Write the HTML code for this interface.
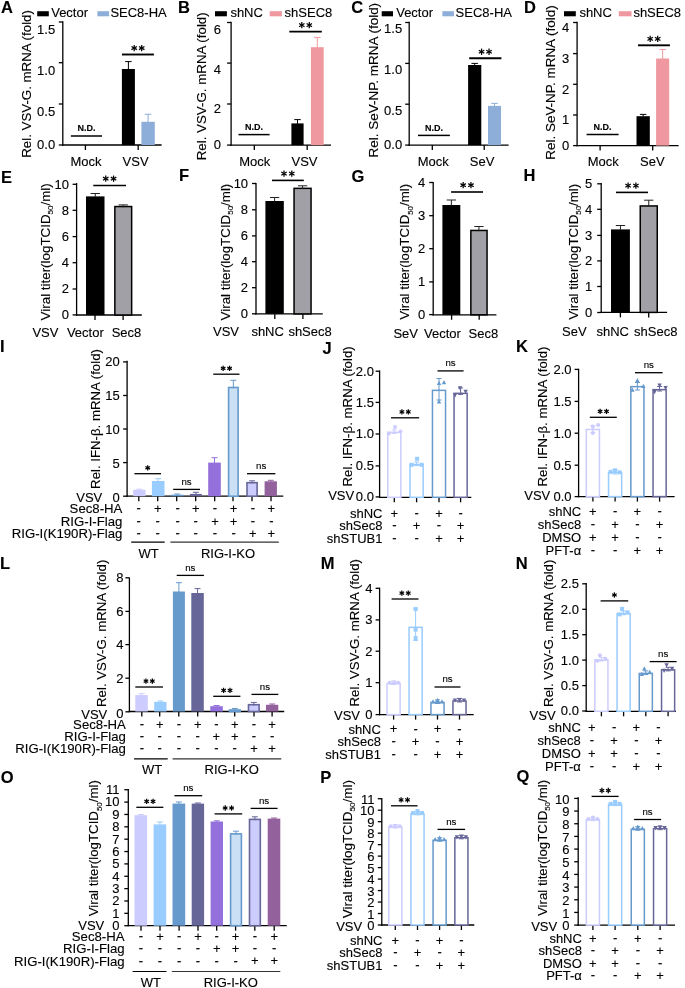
<!DOCTYPE html>
<html><head><meta charset="utf-8"><title>Figure</title>
<style>
html,body{margin:0;padding:0;background:#fff;}
body{width:685px;height:988px;overflow:hidden;}
svg{display:block;font-family:"Liberation Sans",sans-serif;will-change:transform;}
#wrap{width:685px;height:988px;}
text{stroke:#000;stroke-width:0.12px;}
</style></head>
<body>
<div id="wrap">
<svg width="685" height="988" viewBox="0 0 685 988">
<g>
<rect x="0" y="0" width="685" height="988" fill="#fff"/>
<text x="1.00" y="13.18" font-size="16.5" text-anchor="start" font-weight="bold" fill="#000">A</text>
<rect x="37.20" y="11.20" width="11.60" height="5.10" fill="#000"/>
<text x="51.20" y="16.80" font-size="13" text-anchor="start" fill="#000">Vector</text>
<rect x="97.40" y="11.20" width="11.70" height="5.10" fill="#8daed8"/>
<text x="110.40" y="16.80" font-size="13" text-anchor="start" fill="#000">SEC8-HA</text>
<line x1="62.80" y1="21.35" x2="62.80" y2="145.65" stroke="#000" stroke-width="1.3"/>
<line x1="58.80" y1="22.00" x2="62.80" y2="22.00" stroke="#000" stroke-width="1.3"/>
<text x="55.20" y="34.07" font-size="13" text-anchor="end" fill="#000">1.5</text>
<line x1="58.80" y1="62.70" x2="62.80" y2="62.70" stroke="#000" stroke-width="1.3"/>
<text x="55.20" y="75.47" font-size="13" text-anchor="end" fill="#000">1.0</text>
<line x1="58.80" y1="104.00" x2="62.80" y2="104.00" stroke="#000" stroke-width="1.3"/>
<text x="55.20" y="116.47" font-size="13" text-anchor="end" fill="#000">0.5</text>
<line x1="58.80" y1="145.00" x2="62.80" y2="145.00" stroke="#000" stroke-width="1.3"/>
<text x="55.20" y="149.27" font-size="13" text-anchor="end" fill="#000">0.0</text>
<text transform="translate(30.92,83.95) rotate(-90)" x="0" y="0" font-size="13" text-anchor="middle" textLength="147.7" lengthAdjust="spacingAndGlyphs">Rel. VSV-G. mRNA (fold)</text>
<line x1="62.15" y1="145.00" x2="161.60" y2="145.00" stroke="#000" stroke-width="1.3"/>
<line x1="85.40" y1="145.00" x2="85.40" y2="150.00" stroke="#000" stroke-width="1.3"/>
<line x1="138.20" y1="145.00" x2="138.20" y2="150.00" stroke="#000" stroke-width="1.3"/>
<line x1="70.90" y1="136.00" x2="102.00" y2="136.00" stroke="#000" stroke-width="1.5"/>
<text x="86.45" y="131.10" font-size="9" text-anchor="middle" font-weight="bold" fill="#000">N.D.</text>
<rect x="121.90" y="69.00" width="13.00" height="76.00" fill="#000"/>
<line x1="128.40" y1="61.60" x2="128.40" y2="69.50" stroke="#000" stroke-width="1.0"/>
<line x1="125.15" y1="61.60" x2="131.65" y2="61.60" stroke="#000" stroke-width="1.0"/>
<rect x="141.40" y="121.80" width="13.40" height="23.20" fill="#8daed8"/>
<line x1="148.10" y1="114.30" x2="148.10" y2="122.30" stroke="#8daed8" stroke-width="1.0"/>
<line x1="144.85" y1="114.30" x2="151.35" y2="114.30" stroke="#8daed8" stroke-width="1.0"/>
<line x1="122.00" y1="54.50" x2="153.90" y2="54.50" stroke="#000" stroke-width="1.9"/>
<line x1="134.20" y1="44.90" x2="134.20" y2="51.20" stroke="#000" stroke-width="1.25"/>
<line x1="131.47" y1="46.47" x2="136.93" y2="49.62" stroke="#000" stroke-width="1.25"/>
<line x1="131.47" y1="49.62" x2="136.93" y2="46.47" stroke="#000" stroke-width="1.25"/>
<line x1="141.70" y1="44.90" x2="141.70" y2="51.20" stroke="#000" stroke-width="1.25"/>
<line x1="138.97" y1="46.47" x2="144.43" y2="49.62" stroke="#000" stroke-width="1.25"/>
<line x1="138.97" y1="49.62" x2="144.43" y2="46.47" stroke="#000" stroke-width="1.25"/>
<text x="86.00" y="166.20" font-size="13" text-anchor="middle" fill="#000">Mock</text>
<text x="135.60" y="166.20" font-size="13" text-anchor="middle" fill="#000">VSV</text>
<text x="178.00" y="13.23" font-size="16.5" text-anchor="start" font-weight="bold" fill="#000">B</text>
<rect x="215.00" y="11.20" width="11.90" height="5.10" fill="#000"/>
<text x="230.40" y="16.80" font-size="13" text-anchor="start" fill="#000">shNC</text>
<rect x="269.70" y="11.20" width="12.20" height="5.10" fill="#f0989f"/>
<text x="284.60" y="16.80" font-size="13" text-anchor="start" fill="#000">shSEC8</text>
<line x1="231.10" y1="21.85" x2="231.10" y2="145.75" stroke="#000" stroke-width="1.3"/>
<line x1="227.10" y1="22.50" x2="231.10" y2="22.50" stroke="#000" stroke-width="1.3"/>
<text x="221.00" y="33.87" font-size="13" text-anchor="end" fill="#000">6</text>
<line x1="227.10" y1="63.10" x2="231.10" y2="63.10" stroke="#000" stroke-width="1.3"/>
<text x="221.00" y="74.47" font-size="13" text-anchor="end" fill="#000">4</text>
<line x1="227.10" y1="104.00" x2="231.10" y2="104.00" stroke="#000" stroke-width="1.3"/>
<text x="221.00" y="113.47" font-size="13" text-anchor="end" fill="#000">2</text>
<line x1="227.10" y1="145.10" x2="231.10" y2="145.10" stroke="#000" stroke-width="1.3"/>
<text x="221.00" y="148.87" font-size="13" text-anchor="end" fill="#000">0</text>
<text transform="translate(205.97,86.30) rotate(-90)" x="0" y="0" font-size="13" text-anchor="middle" textLength="148.0" lengthAdjust="spacingAndGlyphs">Rel. VSV-G. mRNA (fold)</text>
<line x1="230.45" y1="145.10" x2="331.00" y2="145.10" stroke="#000" stroke-width="1.3"/>
<line x1="254.30" y1="145.10" x2="254.30" y2="150.10" stroke="#000" stroke-width="1.3"/>
<line x1="307.20" y1="145.10" x2="307.20" y2="150.10" stroke="#000" stroke-width="1.3"/>
<line x1="238.50" y1="134.60" x2="269.60" y2="134.60" stroke="#000" stroke-width="1.5"/>
<text x="254.05" y="129.70" font-size="9" text-anchor="middle" font-weight="bold" fill="#000">N.D.</text>
<rect x="291.40" y="123.40" width="12.20" height="21.70" fill="#000"/>
<line x1="297.50" y1="119.60" x2="297.50" y2="123.90" stroke="#000" stroke-width="1.0"/>
<line x1="294.25" y1="119.60" x2="300.75" y2="119.60" stroke="#000" stroke-width="1.0"/>
<rect x="310.90" y="47.20" width="12.80" height="97.90" fill="#f0989f"/>
<line x1="317.30" y1="37.40" x2="317.30" y2="47.70" stroke="#f0989f" stroke-width="1.0"/>
<line x1="314.05" y1="37.40" x2="320.55" y2="37.40" stroke="#f0989f" stroke-width="1.0"/>
<line x1="289.30" y1="31.60" x2="321.80" y2="31.60" stroke="#000" stroke-width="1.9"/>
<line x1="301.80" y1="22.00" x2="301.80" y2="28.30" stroke="#000" stroke-width="1.25"/>
<line x1="299.07" y1="23.58" x2="304.53" y2="26.73" stroke="#000" stroke-width="1.25"/>
<line x1="299.07" y1="26.73" x2="304.53" y2="23.58" stroke="#000" stroke-width="1.25"/>
<line x1="309.30" y1="22.00" x2="309.30" y2="28.30" stroke="#000" stroke-width="1.25"/>
<line x1="306.57" y1="23.58" x2="312.03" y2="26.73" stroke="#000" stroke-width="1.25"/>
<line x1="306.57" y1="26.73" x2="312.03" y2="23.58" stroke="#000" stroke-width="1.25"/>
<text x="254.70" y="166.20" font-size="13" text-anchor="middle" fill="#000">Mock</text>
<text x="304.50" y="166.20" font-size="13" text-anchor="middle" fill="#000">VSV</text>
<text x="351.30" y="13.23" font-size="16.5" text-anchor="start" font-weight="bold" fill="#000">C</text>
<rect x="381.70" y="11.20" width="11.30" height="5.10" fill="#000"/>
<text x="396.20" y="16.80" font-size="13" text-anchor="start" fill="#000">Vector</text>
<rect x="442.40" y="11.20" width="11.50" height="5.10" fill="#8daed8"/>
<text x="455.60" y="16.80" font-size="13" text-anchor="start" fill="#000">SEC8-HA</text>
<line x1="409.20" y1="21.85" x2="409.20" y2="145.75" stroke="#000" stroke-width="1.3"/>
<line x1="405.20" y1="22.50" x2="409.20" y2="22.50" stroke="#000" stroke-width="1.3"/>
<text x="402.20" y="33.17" font-size="13" text-anchor="end" fill="#000">1.5</text>
<line x1="405.20" y1="63.40" x2="409.20" y2="63.40" stroke="#000" stroke-width="1.3"/>
<text x="402.20" y="74.07" font-size="13" text-anchor="end" fill="#000">1.0</text>
<line x1="405.20" y1="104.20" x2="409.20" y2="104.20" stroke="#000" stroke-width="1.3"/>
<text x="402.20" y="114.97" font-size="13" text-anchor="end" fill="#000">0.5</text>
<line x1="405.20" y1="145.10" x2="409.20" y2="145.10" stroke="#000" stroke-width="1.3"/>
<text x="402.20" y="149.47" font-size="13" text-anchor="end" fill="#000">0.0</text>
<text transform="translate(378.47,80.15) rotate(-90)" x="0" y="0" font-size="13" text-anchor="middle" textLength="154.5" lengthAdjust="spacingAndGlyphs">Rel. SeV-NP. mRNA (fold)</text>
<line x1="408.55" y1="145.10" x2="508.60" y2="145.10" stroke="#000" stroke-width="1.3"/>
<line x1="432.30" y1="145.10" x2="432.30" y2="150.10" stroke="#000" stroke-width="1.3"/>
<line x1="484.20" y1="145.10" x2="484.20" y2="150.10" stroke="#000" stroke-width="1.3"/>
<line x1="418.00" y1="135.40" x2="449.90" y2="135.40" stroke="#000" stroke-width="1.5"/>
<text x="433.95" y="130.50" font-size="9" text-anchor="middle" font-weight="bold" fill="#000">N.D.</text>
<rect x="468.10" y="65.00" width="13.20" height="80.10" fill="#000"/>
<line x1="474.70" y1="63.40" x2="474.70" y2="65.50" stroke="#000" stroke-width="1.0"/>
<line x1="471.45" y1="63.40" x2="477.95" y2="63.40" stroke="#000" stroke-width="1.0"/>
<rect x="488.00" y="105.90" width="13.00" height="39.20" fill="#8daed8"/>
<line x1="494.50" y1="103.40" x2="494.50" y2="106.40" stroke="#8daed8" stroke-width="1.0"/>
<line x1="491.25" y1="103.40" x2="497.75" y2="103.40" stroke="#8daed8" stroke-width="1.0"/>
<line x1="469.20" y1="58.20" x2="501.40" y2="58.20" stroke="#000" stroke-width="1.9"/>
<line x1="481.55" y1="48.60" x2="481.55" y2="54.90" stroke="#000" stroke-width="1.25"/>
<line x1="478.82" y1="50.17" x2="484.28" y2="53.33" stroke="#000" stroke-width="1.25"/>
<line x1="478.82" y1="53.33" x2="484.28" y2="50.17" stroke="#000" stroke-width="1.25"/>
<line x1="489.05" y1="48.60" x2="489.05" y2="54.90" stroke="#000" stroke-width="1.25"/>
<line x1="486.32" y1="50.17" x2="491.78" y2="53.33" stroke="#000" stroke-width="1.25"/>
<line x1="486.32" y1="53.33" x2="491.78" y2="50.17" stroke="#000" stroke-width="1.25"/>
<text x="433.30" y="166.20" font-size="13" text-anchor="middle" fill="#000">Mock</text>
<text x="482.10" y="166.20" font-size="13" text-anchor="middle" fill="#000">SeV</text>
<text x="523.90" y="13.13" font-size="16.5" text-anchor="start" font-weight="bold" fill="#000">D</text>
<rect x="564.00" y="11.20" width="11.80" height="5.10" fill="#000"/>
<text x="579.40" y="16.80" font-size="13" text-anchor="start" fill="#000">shNC</text>
<rect x="618.80" y="11.20" width="12.70" height="5.10" fill="#f0989f"/>
<text x="633.40" y="16.80" font-size="13" text-anchor="start" fill="#000">shSEC8</text>
<line x1="577.10" y1="21.85" x2="577.10" y2="146.25" stroke="#000" stroke-width="1.3"/>
<line x1="573.10" y1="22.50" x2="577.10" y2="22.50" stroke="#000" stroke-width="1.3"/>
<text x="569.20" y="32.47" font-size="13" text-anchor="end" fill="#000">4</text>
<line x1="573.10" y1="53.60" x2="577.10" y2="53.60" stroke="#000" stroke-width="1.3"/>
<text x="569.20" y="63.27" font-size="13" text-anchor="end" fill="#000">3</text>
<line x1="573.10" y1="84.30" x2="577.10" y2="84.30" stroke="#000" stroke-width="1.3"/>
<text x="569.20" y="93.87" font-size="13" text-anchor="end" fill="#000">2</text>
<line x1="573.10" y1="115.00" x2="577.10" y2="115.00" stroke="#000" stroke-width="1.3"/>
<text x="569.20" y="123.77" font-size="13" text-anchor="end" fill="#000">1</text>
<line x1="573.10" y1="145.60" x2="577.10" y2="145.60" stroke="#000" stroke-width="1.3"/>
<text x="569.20" y="150.07" font-size="13" text-anchor="end" fill="#000">0</text>
<text transform="translate(554.57,82.50) rotate(-90)" x="0" y="0" font-size="13" text-anchor="middle" textLength="154.4" lengthAdjust="spacingAndGlyphs">Rel. SeV-NP. mRNA (fold)</text>
<line x1="576.45" y1="145.60" x2="678.60" y2="145.60" stroke="#000" stroke-width="1.3"/>
<line x1="600.10" y1="145.60" x2="600.10" y2="150.60" stroke="#000" stroke-width="1.3"/>
<line x1="652.70" y1="145.60" x2="652.70" y2="150.60" stroke="#000" stroke-width="1.3"/>
<line x1="586.60" y1="134.60" x2="618.60" y2="134.60" stroke="#000" stroke-width="1.5"/>
<text x="602.60" y="129.70" font-size="9" text-anchor="middle" font-weight="bold" fill="#000">N.D.</text>
<rect x="636.50" y="116.20" width="13.30" height="29.40" fill="#000"/>
<line x1="643.15" y1="114.40" x2="643.15" y2="116.70" stroke="#000" stroke-width="1.0"/>
<line x1="639.90" y1="114.40" x2="646.40" y2="114.40" stroke="#000" stroke-width="1.0"/>
<rect x="656.10" y="58.50" width="13.10" height="87.10" fill="#f0989f"/>
<line x1="662.65" y1="49.50" x2="662.65" y2="59.00" stroke="#f0989f" stroke-width="1.0"/>
<line x1="659.40" y1="49.50" x2="665.90" y2="49.50" stroke="#f0989f" stroke-width="1.0"/>
<line x1="638.00" y1="45.30" x2="669.90" y2="45.30" stroke="#000" stroke-width="1.9"/>
<line x1="650.20" y1="35.70" x2="650.20" y2="42.00" stroke="#000" stroke-width="1.25"/>
<line x1="647.47" y1="37.27" x2="652.93" y2="40.42" stroke="#000" stroke-width="1.25"/>
<line x1="647.47" y1="40.42" x2="652.93" y2="37.27" stroke="#000" stroke-width="1.25"/>
<line x1="657.70" y1="35.70" x2="657.70" y2="42.00" stroke="#000" stroke-width="1.25"/>
<line x1="654.97" y1="37.27" x2="660.43" y2="40.42" stroke="#000" stroke-width="1.25"/>
<line x1="654.97" y1="40.42" x2="660.43" y2="37.27" stroke="#000" stroke-width="1.25"/>
<text x="603.30" y="166.20" font-size="13" text-anchor="middle" fill="#000">Mock</text>
<text x="652.40" y="166.20" font-size="13" text-anchor="middle" fill="#000">SeV</text>
<text x="1.10" y="182.58" font-size="16.5" text-anchor="start" font-weight="bold" fill="#000">E</text>
<line x1="76.60" y1="183.05" x2="76.60" y2="315.65" stroke="#000" stroke-width="1.3"/>
<line x1="72.60" y1="184.30" x2="76.60" y2="184.30" stroke="#000" stroke-width="1.3"/>
<text x="69.00" y="188.77" font-size="13" text-anchor="end" fill="#000">10</text>
<line x1="72.60" y1="210.30" x2="76.60" y2="210.30" stroke="#000" stroke-width="1.3"/>
<text x="69.00" y="214.77" font-size="13" text-anchor="end" fill="#000">8</text>
<line x1="72.60" y1="236.60" x2="76.60" y2="236.60" stroke="#000" stroke-width="1.3"/>
<text x="69.00" y="241.07" font-size="13" text-anchor="end" fill="#000">6</text>
<line x1="72.60" y1="262.70" x2="76.60" y2="262.70" stroke="#000" stroke-width="1.3"/>
<text x="69.00" y="267.17" font-size="13" text-anchor="end" fill="#000">4</text>
<line x1="72.60" y1="289.00" x2="76.60" y2="289.00" stroke="#000" stroke-width="1.3"/>
<text x="69.00" y="293.47" font-size="13" text-anchor="end" fill="#000">2</text>
<line x1="72.60" y1="314.90" x2="76.60" y2="314.90" stroke="#000" stroke-width="1.3"/>
<text x="69.00" y="319.37" font-size="13" text-anchor="end" fill="#000">0</text>
<text transform="translate(49.77,251.80) rotate(-90)" x="0" y="0" font-size="13" text-anchor="middle" textLength="137.2" lengthAdjust="spacingAndGlyphs">Viral titer(logTCID<tspan font-size="7.8" dy="3.4">50</tspan><tspan dy="-3.4">/ml)</tspan></text>
<line x1="75.95" y1="315.00" x2="141.80" y2="315.00" stroke="#000" stroke-width="1.3"/>
<line x1="95.00" y1="315.00" x2="95.00" y2="320.00" stroke="#000" stroke-width="1.3"/>
<line x1="123.10" y1="315.00" x2="123.10" y2="320.00" stroke="#000" stroke-width="1.3"/>
<rect x="86.00" y="196.40" width="18.50" height="118.60" fill="#000"/>
<line x1="95.25" y1="193.50" x2="95.25" y2="196.90" stroke="#222" stroke-width="1.0"/>
<line x1="90.60" y1="193.50" x2="99.90" y2="193.50" stroke="#222" stroke-width="1.0"/>
<rect x="114.85" y="206.55" width="16.80" height="108.45" fill="#a0a0a6" stroke="#000" stroke-width="1.5"/>
<line x1="123.25" y1="204.90" x2="123.25" y2="207.30" stroke="#222" stroke-width="1.0"/>
<line x1="118.60" y1="204.90" x2="127.90" y2="204.90" stroke="#222" stroke-width="1.0"/>
<line x1="93.30" y1="185.50" x2="126.00" y2="185.50" stroke="#000" stroke-width="1.6"/>
<line x1="105.75" y1="175.55" x2="105.75" y2="181.85" stroke="#000" stroke-width="1.25"/>
<line x1="103.02" y1="177.12" x2="108.48" y2="180.27" stroke="#000" stroke-width="1.25"/>
<line x1="103.02" y1="180.27" x2="108.48" y2="177.12" stroke="#000" stroke-width="1.25"/>
<line x1="113.55" y1="175.55" x2="113.55" y2="181.85" stroke="#000" stroke-width="1.25"/>
<line x1="110.82" y1="177.12" x2="116.28" y2="180.27" stroke="#000" stroke-width="1.25"/>
<line x1="110.82" y1="180.27" x2="116.28" y2="177.12" stroke="#000" stroke-width="1.25"/>
<text x="32.40" y="336.60" font-size="13" text-anchor="start" fill="#000">VSV</text>
<text x="66.90" y="336.60" font-size="13" text-anchor="start" fill="#000">Vector</text>
<text x="111.70" y="336.60" font-size="13" text-anchor="start" fill="#000">Sec8</text>
<text x="179.00" y="180.98" font-size="16.5" text-anchor="start" font-weight="bold" fill="#000">F</text>
<line x1="256.00" y1="182.95" x2="256.00" y2="314.55" stroke="#000" stroke-width="1.3"/>
<line x1="252.00" y1="183.50" x2="256.00" y2="183.50" stroke="#000" stroke-width="1.3"/>
<text x="248.10" y="187.97" font-size="13" text-anchor="end" fill="#000">10</text>
<line x1="252.00" y1="209.80" x2="256.00" y2="209.80" stroke="#000" stroke-width="1.3"/>
<text x="248.10" y="214.27" font-size="13" text-anchor="end" fill="#000">8</text>
<line x1="252.00" y1="235.90" x2="256.00" y2="235.90" stroke="#000" stroke-width="1.3"/>
<text x="248.10" y="240.37" font-size="13" text-anchor="end" fill="#000">6</text>
<line x1="252.00" y1="261.70" x2="256.00" y2="261.70" stroke="#000" stroke-width="1.3"/>
<text x="248.10" y="266.17" font-size="13" text-anchor="end" fill="#000">4</text>
<line x1="252.00" y1="287.70" x2="256.00" y2="287.70" stroke="#000" stroke-width="1.3"/>
<text x="248.10" y="292.17" font-size="13" text-anchor="end" fill="#000">2</text>
<line x1="252.00" y1="313.80" x2="256.00" y2="313.80" stroke="#000" stroke-width="1.3"/>
<text x="248.10" y="318.27" font-size="13" text-anchor="end" fill="#000">0</text>
<text transform="translate(229.87,252.05) rotate(-90)" x="0" y="0" font-size="13" text-anchor="middle" textLength="136.7" lengthAdjust="spacingAndGlyphs">Viral titer(logTCID<tspan font-size="7.8" dy="3.4">50</tspan><tspan dy="-3.4">/ml)</tspan></text>
<line x1="255.35" y1="313.90" x2="322.80" y2="313.90" stroke="#000" stroke-width="1.3"/>
<line x1="274.80" y1="313.90" x2="274.80" y2="318.90" stroke="#000" stroke-width="1.3"/>
<line x1="302.90" y1="313.90" x2="302.90" y2="318.90" stroke="#000" stroke-width="1.3"/>
<rect x="265.40" y="201.00" width="18.40" height="112.90" fill="#000"/>
<line x1="274.60" y1="197.50" x2="274.60" y2="201.50" stroke="#222" stroke-width="1.0"/>
<line x1="269.95" y1="197.50" x2="279.25" y2="197.50" stroke="#222" stroke-width="1.0"/>
<rect x="294.05" y="188.35" width="17.00" height="125.55" fill="#a0a0a6" stroke="#000" stroke-width="1.5"/>
<line x1="302.55" y1="185.80" x2="302.55" y2="189.10" stroke="#222" stroke-width="1.0"/>
<line x1="297.90" y1="185.80" x2="307.20" y2="185.80" stroke="#222" stroke-width="1.0"/>
<line x1="272.00" y1="180.40" x2="303.80" y2="180.40" stroke="#000" stroke-width="1.6"/>
<line x1="284.00" y1="170.45" x2="284.00" y2="176.75" stroke="#000" stroke-width="1.25"/>
<line x1="281.27" y1="172.03" x2="286.73" y2="175.17" stroke="#000" stroke-width="1.25"/>
<line x1="281.27" y1="175.17" x2="286.73" y2="172.03" stroke="#000" stroke-width="1.25"/>
<line x1="291.80" y1="170.45" x2="291.80" y2="176.75" stroke="#000" stroke-width="1.25"/>
<line x1="289.07" y1="172.03" x2="294.53" y2="175.17" stroke="#000" stroke-width="1.25"/>
<line x1="289.07" y1="175.17" x2="294.53" y2="172.03" stroke="#000" stroke-width="1.25"/>
<text x="213.00" y="336.30" font-size="13" text-anchor="start" fill="#000">VSV</text>
<text x="251.40" y="336.30" font-size="13" text-anchor="start" fill="#000">shNC</text>
<text x="288.40" y="336.30" font-size="13" text-anchor="start" fill="#000">shSec8</text>
<text x="351.50" y="182.48" font-size="16.5" text-anchor="start" font-weight="bold" fill="#000">G</text>
<line x1="433.20" y1="181.95" x2="433.20" y2="315.45" stroke="#000" stroke-width="1.3"/>
<line x1="429.20" y1="182.50" x2="433.20" y2="182.50" stroke="#000" stroke-width="1.3"/>
<text x="425.20" y="186.97" font-size="13" text-anchor="end" fill="#000">4</text>
<line x1="429.20" y1="215.70" x2="433.20" y2="215.70" stroke="#000" stroke-width="1.3"/>
<text x="425.20" y="220.17" font-size="13" text-anchor="end" fill="#000">3</text>
<line x1="429.20" y1="248.70" x2="433.20" y2="248.70" stroke="#000" stroke-width="1.3"/>
<text x="425.20" y="253.17" font-size="13" text-anchor="end" fill="#000">2</text>
<line x1="429.20" y1="281.90" x2="433.20" y2="281.90" stroke="#000" stroke-width="1.3"/>
<text x="425.20" y="286.37" font-size="13" text-anchor="end" fill="#000">1</text>
<line x1="429.20" y1="314.60" x2="433.20" y2="314.60" stroke="#000" stroke-width="1.3"/>
<text x="425.20" y="319.07" font-size="13" text-anchor="end" fill="#000">0</text>
<text transform="translate(409.37,251.80) rotate(-90)" x="0" y="0" font-size="13" text-anchor="middle" textLength="135.8" lengthAdjust="spacingAndGlyphs">Viral titer(logTCID<tspan font-size="7.8" dy="3.4">50</tspan><tspan dy="-3.4">/ml)</tspan></text>
<line x1="432.55" y1="314.80" x2="496.40" y2="314.80" stroke="#000" stroke-width="1.3"/>
<line x1="451.60" y1="314.80" x2="451.60" y2="319.80" stroke="#000" stroke-width="1.3"/>
<line x1="479.20" y1="314.80" x2="479.20" y2="319.80" stroke="#000" stroke-width="1.3"/>
<rect x="442.40" y="205.00" width="17.90" height="109.80" fill="#000"/>
<line x1="451.35" y1="200.00" x2="451.35" y2="205.50" stroke="#222" stroke-width="1.0"/>
<line x1="446.70" y1="200.00" x2="456.00" y2="200.00" stroke="#222" stroke-width="1.0"/>
<rect x="470.85" y="230.45" width="16.20" height="84.35" fill="#a0a0a6" stroke="#000" stroke-width="1.5"/>
<line x1="478.95" y1="226.50" x2="478.95" y2="231.20" stroke="#222" stroke-width="1.0"/>
<line x1="474.30" y1="226.50" x2="483.60" y2="226.50" stroke="#222" stroke-width="1.0"/>
<line x1="451.10" y1="192.00" x2="483.00" y2="192.00" stroke="#000" stroke-width="1.6"/>
<line x1="463.15" y1="182.05" x2="463.15" y2="188.35" stroke="#000" stroke-width="1.25"/>
<line x1="460.42" y1="183.62" x2="465.88" y2="186.77" stroke="#000" stroke-width="1.25"/>
<line x1="460.42" y1="186.77" x2="465.88" y2="183.62" stroke="#000" stroke-width="1.25"/>
<line x1="470.95" y1="182.05" x2="470.95" y2="188.35" stroke="#000" stroke-width="1.25"/>
<line x1="468.22" y1="183.62" x2="473.68" y2="186.77" stroke="#000" stroke-width="1.25"/>
<line x1="468.22" y1="186.77" x2="473.68" y2="183.62" stroke="#000" stroke-width="1.25"/>
<text x="393.40" y="337.60" font-size="13" text-anchor="start" fill="#000">SeV</text>
<text x="424.00" y="337.60" font-size="13" text-anchor="start" fill="#000">Vector</text>
<text x="468.60" y="337.60" font-size="13" text-anchor="start" fill="#000">Sec8</text>
<text x="523.60" y="180.98" font-size="16.5" text-anchor="start" font-weight="bold" fill="#000">H</text>
<line x1="601.20" y1="183.05" x2="601.20" y2="313.05" stroke="#000" stroke-width="1.3"/>
<line x1="597.20" y1="183.80" x2="601.20" y2="183.80" stroke="#000" stroke-width="1.3"/>
<text x="592.30" y="188.27" font-size="13" text-anchor="end" fill="#000">5</text>
<line x1="597.20" y1="209.30" x2="601.20" y2="209.30" stroke="#000" stroke-width="1.3"/>
<text x="592.30" y="213.77" font-size="13" text-anchor="end" fill="#000">4</text>
<line x1="597.20" y1="235.40" x2="601.20" y2="235.40" stroke="#000" stroke-width="1.3"/>
<text x="592.30" y="239.87" font-size="13" text-anchor="end" fill="#000">3</text>
<line x1="597.20" y1="260.90" x2="601.20" y2="260.90" stroke="#000" stroke-width="1.3"/>
<text x="592.30" y="265.37" font-size="13" text-anchor="end" fill="#000">2</text>
<line x1="597.20" y1="286.50" x2="601.20" y2="286.50" stroke="#000" stroke-width="1.3"/>
<text x="592.30" y="290.97" font-size="13" text-anchor="end" fill="#000">1</text>
<line x1="597.20" y1="312.50" x2="601.20" y2="312.50" stroke="#000" stroke-width="1.3"/>
<text x="592.30" y="316.97" font-size="13" text-anchor="end" fill="#000">0</text>
<text transform="translate(577.67,251.75) rotate(-90)" x="0" y="0" font-size="13" text-anchor="middle" textLength="135.9" lengthAdjust="spacingAndGlyphs">Viral titer(logTCID<tspan font-size="7.8" dy="3.4">50</tspan><tspan dy="-3.4">/ml)</tspan></text>
<line x1="600.55" y1="312.40" x2="667.10" y2="312.40" stroke="#000" stroke-width="1.3"/>
<line x1="620.40" y1="312.40" x2="620.40" y2="317.40" stroke="#000" stroke-width="1.3"/>
<line x1="648.70" y1="312.40" x2="648.70" y2="317.40" stroke="#000" stroke-width="1.3"/>
<rect x="611.00" y="229.40" width="18.90" height="83.00" fill="#000"/>
<line x1="620.45" y1="225.50" x2="620.45" y2="229.90" stroke="#222" stroke-width="1.0"/>
<line x1="615.80" y1="225.50" x2="625.10" y2="225.50" stroke="#222" stroke-width="1.0"/>
<rect x="640.25" y="205.95" width="17.00" height="106.45" fill="#a0a0a6" stroke="#000" stroke-width="1.5"/>
<line x1="648.75" y1="200.20" x2="648.75" y2="206.70" stroke="#222" stroke-width="1.0"/>
<line x1="644.10" y1="200.20" x2="653.40" y2="200.20" stroke="#222" stroke-width="1.0"/>
<line x1="616.00" y1="192.40" x2="648.00" y2="192.40" stroke="#000" stroke-width="1.6"/>
<line x1="628.10" y1="182.45" x2="628.10" y2="188.75" stroke="#000" stroke-width="1.25"/>
<line x1="625.37" y1="184.03" x2="630.83" y2="187.17" stroke="#000" stroke-width="1.25"/>
<line x1="625.37" y1="187.17" x2="630.83" y2="184.03" stroke="#000" stroke-width="1.25"/>
<line x1="635.90" y1="182.45" x2="635.90" y2="188.75" stroke="#000" stroke-width="1.25"/>
<line x1="633.17" y1="184.03" x2="638.63" y2="187.17" stroke="#000" stroke-width="1.25"/>
<line x1="633.17" y1="187.17" x2="638.63" y2="184.03" stroke="#000" stroke-width="1.25"/>
<text x="562.10" y="336.30" font-size="13" text-anchor="start" fill="#000">SeV</text>
<text x="596.50" y="336.30" font-size="13" text-anchor="start" fill="#000">shNC</text>
<text x="634.00" y="336.30" font-size="13" text-anchor="start" fill="#000">shSec8</text>
<text x="0.10" y="352.28" font-size="16.5" text-anchor="start" font-weight="bold" fill="#000">I</text>
<line x1="127.10" y1="360.85" x2="127.10" y2="496.85" stroke="#000" stroke-width="1.3"/>
<line x1="123.10" y1="361.90" x2="127.10" y2="361.90" stroke="#000" stroke-width="1.3"/>
<text x="119.80" y="365.57" font-size="13" text-anchor="end" fill="#000">20</text>
<line x1="123.10" y1="395.50" x2="127.10" y2="395.50" stroke="#000" stroke-width="1.3"/>
<text x="119.80" y="399.97" font-size="13" text-anchor="end" fill="#000">15</text>
<line x1="123.10" y1="429.00" x2="127.10" y2="429.00" stroke="#000" stroke-width="1.3"/>
<text x="119.80" y="433.67" font-size="13" text-anchor="end" fill="#000">10</text>
<line x1="123.10" y1="462.60" x2="127.10" y2="462.60" stroke="#000" stroke-width="1.3"/>
<text x="119.80" y="467.67" font-size="13" text-anchor="end" fill="#000">5</text>
<line x1="123.10" y1="496.20" x2="127.10" y2="496.20" stroke="#000" stroke-width="1.3"/>
<text x="119.80" y="502.17" font-size="13" text-anchor="end" fill="#000">0</text>
<text transform="translate(100.47,419.00) rotate(-90)" x="0" y="0" font-size="13" text-anchor="middle" textLength="139.8" lengthAdjust="spacingAndGlyphs">Rel. IFN-β. mRNA (fold)</text>
<line x1="126.45" y1="496.20" x2="283.30" y2="496.20" stroke="#000" stroke-width="1.3"/>
<line x1="138.80" y1="496.20" x2="138.80" y2="501.20" stroke="#000" stroke-width="1.3"/>
<line x1="157.70" y1="496.20" x2="157.70" y2="501.20" stroke="#000" stroke-width="1.3"/>
<line x1="176.70" y1="496.20" x2="176.70" y2="501.20" stroke="#000" stroke-width="1.3"/>
<line x1="195.70" y1="496.20" x2="195.70" y2="501.20" stroke="#000" stroke-width="1.3"/>
<line x1="214.70" y1="496.20" x2="214.70" y2="501.20" stroke="#000" stroke-width="1.3"/>
<line x1="233.00" y1="496.20" x2="233.00" y2="501.20" stroke="#000" stroke-width="1.3"/>
<line x1="252.00" y1="496.20" x2="252.00" y2="501.20" stroke="#000" stroke-width="1.3"/>
<line x1="271.00" y1="496.20" x2="271.00" y2="501.20" stroke="#000" stroke-width="1.3"/>
<rect x="133.20" y="489.80" width="12.30" height="6.40" fill="#ccccff"/>
<line x1="139.35" y1="489.20" x2="139.35" y2="490.30" stroke="#ccccff" stroke-width="1.0"/>
<line x1="136.35" y1="489.20" x2="142.35" y2="489.20" stroke="#ccccff" stroke-width="1.0"/>
<rect x="151.90" y="481.00" width="12.60" height="15.20" fill="#99ccff"/>
<line x1="158.20" y1="478.70" x2="158.20" y2="481.50" stroke="#99ccff" stroke-width="1.0"/>
<line x1="155.20" y1="478.70" x2="161.20" y2="478.70" stroke="#99ccff" stroke-width="1.0"/>
<rect x="170.90" y="494.70" width="12.50" height="1.50" fill="#6699cc"/>
<line x1="177.15" y1="494.00" x2="177.15" y2="495.20" stroke="#6699cc" stroke-width="1.0"/>
<line x1="174.15" y1="494.00" x2="180.15" y2="494.00" stroke="#6699cc" stroke-width="1.0"/>
<rect x="189.90" y="493.90" width="11.90" height="2.30" fill="#666699"/>
<line x1="195.85" y1="492.30" x2="195.85" y2="494.40" stroke="#666699" stroke-width="1.0"/>
<line x1="192.85" y1="492.30" x2="198.85" y2="492.30" stroke="#666699" stroke-width="1.0"/>
<rect x="208.20" y="462.60" width="12.60" height="33.60" fill="#9370db"/>
<line x1="214.50" y1="457.70" x2="214.50" y2="463.10" stroke="#9370db" stroke-width="1.0"/>
<line x1="211.50" y1="457.70" x2="217.50" y2="457.70" stroke="#9370db" stroke-width="1.0"/>
<rect x="228.60" y="387.50" width="9.50" height="108.70" fill="#cce0f5" stroke="#6699cc" stroke-width="1.6"/>
<line x1="233.35" y1="380.30" x2="233.35" y2="388.30" stroke="#6699cc" stroke-width="1.0"/>
<line x1="230.35" y1="380.30" x2="236.35" y2="380.30" stroke="#6699cc" stroke-width="1.0"/>
<rect x="247.00" y="482.70" width="10.10" height="13.50" fill="#ccccff" stroke="#666699" stroke-width="1.6"/>
<line x1="252.05" y1="480.80" x2="252.05" y2="483.50" stroke="#666699" stroke-width="1.0"/>
<line x1="249.05" y1="480.80" x2="255.05" y2="480.80" stroke="#666699" stroke-width="1.0"/>
<rect x="264.60" y="481.30" width="12.30" height="14.90" fill="#93619c"/>
<line x1="270.75" y1="480.30" x2="270.75" y2="481.80" stroke="#93619c" stroke-width="1.0"/>
<line x1="267.75" y1="480.30" x2="273.75" y2="480.30" stroke="#93619c" stroke-width="1.0"/>
<line x1="134.40" y1="473.70" x2="161.00" y2="473.70" stroke="#000" stroke-width="1.3"/>
<line x1="147.70" y1="465.15" x2="147.70" y2="470.45" stroke="#000" stroke-width="1.25"/>
<line x1="145.41" y1="466.48" x2="149.99" y2="469.12" stroke="#000" stroke-width="1.25"/>
<line x1="145.41" y1="469.12" x2="149.99" y2="466.48" stroke="#000" stroke-width="1.25"/>
<line x1="173.20" y1="489.40" x2="200.00" y2="489.40" stroke="#000" stroke-width="1.3"/>
<text x="186.60" y="484.80" font-size="9.7" text-anchor="middle" fill="#000">ns</text>
<line x1="213.20" y1="374.20" x2="239.50" y2="374.20" stroke="#000" stroke-width="1.3"/>
<line x1="223.15" y1="365.65" x2="223.15" y2="370.95" stroke="#000" stroke-width="1.25"/>
<line x1="220.86" y1="366.98" x2="225.44" y2="369.62" stroke="#000" stroke-width="1.25"/>
<line x1="220.86" y1="369.62" x2="225.44" y2="366.98" stroke="#000" stroke-width="1.25"/>
<line x1="229.55" y1="365.65" x2="229.55" y2="370.95" stroke="#000" stroke-width="1.25"/>
<line x1="227.26" y1="366.98" x2="231.84" y2="369.62" stroke="#000" stroke-width="1.25"/>
<line x1="227.26" y1="369.62" x2="231.84" y2="366.98" stroke="#000" stroke-width="1.25"/>
<line x1="247.00" y1="473.70" x2="275.40" y2="473.70" stroke="#000" stroke-width="1.3"/>
<text x="261.20" y="469.10" font-size="9.7" text-anchor="middle" fill="#000">ns</text>
<text x="102.30" y="501.60" font-size="13" text-anchor="end" fill="#000">VSV</text>
<text x="122.40" y="512.94" font-size="13.2" text-anchor="end" fill="#000">Sec8-HA</text>
<text x="138.60" y="511.86" font-size="13" text-anchor="middle" fill="#000">-</text>
<text x="157.70" y="512.72" font-size="13" text-anchor="middle" fill="#000">+</text>
<text x="177.60" y="511.86" font-size="13" text-anchor="middle" fill="#000">-</text>
<text x="195.70" y="512.72" font-size="13" text-anchor="middle" fill="#000">+</text>
<text x="215.00" y="511.86" font-size="13" text-anchor="middle" fill="#000">-</text>
<text x="233.60" y="512.72" font-size="13" text-anchor="middle" fill="#000">+</text>
<text x="252.80" y="511.86" font-size="13" text-anchor="middle" fill="#000">-</text>
<text x="271.40" y="512.72" font-size="13" text-anchor="middle" fill="#000">+</text>
<text x="122.40" y="525.74" font-size="13.2" text-anchor="end" fill="#000">RIG-I-Flag</text>
<text x="138.60" y="524.66" font-size="13" text-anchor="middle" fill="#000">-</text>
<text x="157.70" y="524.66" font-size="13" text-anchor="middle" fill="#000">-</text>
<text x="177.60" y="524.66" font-size="13" text-anchor="middle" fill="#000">-</text>
<text x="195.70" y="524.66" font-size="13" text-anchor="middle" fill="#000">-</text>
<text x="215.00" y="525.52" font-size="13" text-anchor="middle" fill="#000">+</text>
<text x="233.60" y="525.52" font-size="13" text-anchor="middle" fill="#000">+</text>
<text x="252.80" y="524.66" font-size="13" text-anchor="middle" fill="#000">-</text>
<text x="271.40" y="524.66" font-size="13" text-anchor="middle" fill="#000">-</text>
<text x="122.40" y="538.14" font-size="13.2" text-anchor="end" fill="#000">RIG-I(K190R)-Flag</text>
<text x="138.60" y="537.06" font-size="13" text-anchor="middle" fill="#000">-</text>
<text x="157.70" y="537.06" font-size="13" text-anchor="middle" fill="#000">-</text>
<text x="177.60" y="537.06" font-size="13" text-anchor="middle" fill="#000">-</text>
<text x="195.70" y="537.06" font-size="13" text-anchor="middle" fill="#000">-</text>
<text x="215.00" y="537.06" font-size="13" text-anchor="middle" fill="#000">-</text>
<text x="233.60" y="537.06" font-size="13" text-anchor="middle" fill="#000">-</text>
<text x="252.80" y="537.92" font-size="13" text-anchor="middle" fill="#000">+</text>
<text x="271.40" y="537.92" font-size="13" text-anchor="middle" fill="#000">+</text>
<line x1="131.20" y1="542.10" x2="164.70" y2="542.10" stroke="#000" stroke-width="1.2"/>
<line x1="170.40" y1="542.10" x2="278.80" y2="542.10" stroke="#333" stroke-width="1.2"/>
<text x="148.50" y="557.74" font-size="13" text-anchor="middle" fill="#000">WT</text>
<text x="228.00" y="557.74" font-size="13" text-anchor="middle" fill="#000">RIG-I-KO</text>
<text x="0.10" y="568.68" font-size="16.5" text-anchor="start" font-weight="bold" fill="#000">L</text>
<line x1="129.40" y1="577.55" x2="129.40" y2="712.15" stroke="#000" stroke-width="1.3"/>
<line x1="125.40" y1="577.80" x2="129.40" y2="577.80" stroke="#000" stroke-width="1.3"/>
<text x="123.60" y="581.97" font-size="13" text-anchor="end" fill="#000">8</text>
<line x1="125.40" y1="611.40" x2="129.40" y2="611.40" stroke="#000" stroke-width="1.3"/>
<text x="123.60" y="615.87" font-size="13" text-anchor="end" fill="#000">6</text>
<line x1="125.40" y1="644.60" x2="129.40" y2="644.60" stroke="#000" stroke-width="1.3"/>
<text x="123.60" y="649.37" font-size="13" text-anchor="end" fill="#000">4</text>
<line x1="125.40" y1="678.20" x2="129.40" y2="678.20" stroke="#000" stroke-width="1.3"/>
<text x="123.60" y="683.47" font-size="13" text-anchor="end" fill="#000">2</text>
<line x1="125.40" y1="711.80" x2="129.40" y2="711.80" stroke="#000" stroke-width="1.3"/>
<text x="123.60" y="718.47" font-size="13" text-anchor="end" fill="#000">0</text>
<text transform="translate(105.77,633.35) rotate(-90)" x="0" y="0" font-size="13" text-anchor="middle" textLength="147.3" lengthAdjust="spacingAndGlyphs">Rel. VSV-G. mRNA (fold)</text>
<line x1="128.75" y1="711.50" x2="284.20" y2="711.50" stroke="#000" stroke-width="1.3"/>
<line x1="141.80" y1="711.50" x2="141.80" y2="716.50" stroke="#000" stroke-width="1.3"/>
<line x1="159.70" y1="711.50" x2="159.70" y2="716.50" stroke="#000" stroke-width="1.3"/>
<line x1="178.80" y1="711.50" x2="178.80" y2="716.50" stroke="#000" stroke-width="1.3"/>
<line x1="197.70" y1="711.50" x2="197.70" y2="716.50" stroke="#000" stroke-width="1.3"/>
<line x1="216.30" y1="711.50" x2="216.30" y2="716.50" stroke="#000" stroke-width="1.3"/>
<line x1="234.70" y1="711.50" x2="234.70" y2="716.50" stroke="#000" stroke-width="1.3"/>
<line x1="254.00" y1="711.50" x2="254.00" y2="716.50" stroke="#000" stroke-width="1.3"/>
<line x1="272.10" y1="711.50" x2="272.10" y2="716.50" stroke="#000" stroke-width="1.3"/>
<rect x="135.30" y="695.10" width="12.50" height="16.40" fill="#ccccff"/>
<line x1="141.55" y1="693.70" x2="141.55" y2="695.60" stroke="#ccccff" stroke-width="1.0"/>
<line x1="138.55" y1="693.70" x2="144.55" y2="693.70" stroke="#ccccff" stroke-width="1.0"/>
<rect x="154.20" y="701.90" width="12.30" height="9.60" fill="#99ccff"/>
<line x1="160.35" y1="701.00" x2="160.35" y2="702.40" stroke="#99ccff" stroke-width="1.0"/>
<line x1="157.35" y1="701.00" x2="163.35" y2="701.00" stroke="#99ccff" stroke-width="1.0"/>
<rect x="172.90" y="591.50" width="12.00" height="120.00" fill="#6699cc"/>
<line x1="178.90" y1="582.70" x2="178.90" y2="592.00" stroke="#6699cc" stroke-width="1.0"/>
<line x1="175.90" y1="582.70" x2="181.90" y2="582.70" stroke="#6699cc" stroke-width="1.0"/>
<rect x="191.30" y="593.00" width="12.50" height="118.50" fill="#666699"/>
<line x1="197.55" y1="588.60" x2="197.55" y2="593.50" stroke="#666699" stroke-width="1.0"/>
<line x1="194.55" y1="588.60" x2="200.55" y2="588.60" stroke="#666699" stroke-width="1.0"/>
<rect x="210.30" y="706.20" width="12.50" height="5.30" fill="#9370db"/>
<line x1="216.55" y1="705.50" x2="216.55" y2="706.70" stroke="#9370db" stroke-width="1.0"/>
<line x1="213.55" y1="705.50" x2="219.55" y2="705.50" stroke="#9370db" stroke-width="1.0"/>
<rect x="229.50" y="710.00" width="10.70" height="1.50" fill="#cce0f5" stroke="#6699cc" stroke-width="1.6"/>
<line x1="234.85" y1="708.50" x2="234.85" y2="710.80" stroke="#6699cc" stroke-width="1.0"/>
<line x1="231.85" y1="708.50" x2="237.85" y2="708.50" stroke="#6699cc" stroke-width="1.0"/>
<rect x="248.50" y="704.70" width="10.60" height="6.80" fill="#ccccff" stroke="#666699" stroke-width="1.6"/>
<line x1="253.80" y1="702.40" x2="253.80" y2="705.50" stroke="#666699" stroke-width="1.0"/>
<line x1="250.80" y1="702.40" x2="256.80" y2="702.40" stroke="#666699" stroke-width="1.0"/>
<rect x="266.00" y="704.80" width="12.30" height="6.70" fill="#93619c"/>
<line x1="272.15" y1="704.00" x2="272.15" y2="705.30" stroke="#93619c" stroke-width="1.0"/>
<line x1="269.15" y1="704.00" x2="275.15" y2="704.00" stroke="#93619c" stroke-width="1.0"/>
<line x1="135.30" y1="687.00" x2="163.00" y2="687.00" stroke="#000" stroke-width="1.3"/>
<line x1="145.95" y1="678.45" x2="145.95" y2="683.75" stroke="#000" stroke-width="1.25"/>
<line x1="143.66" y1="679.77" x2="148.24" y2="682.43" stroke="#000" stroke-width="1.25"/>
<line x1="143.66" y1="682.43" x2="148.24" y2="679.77" stroke="#000" stroke-width="1.25"/>
<line x1="152.35" y1="678.45" x2="152.35" y2="683.75" stroke="#000" stroke-width="1.25"/>
<line x1="150.06" y1="679.77" x2="154.64" y2="682.43" stroke="#000" stroke-width="1.25"/>
<line x1="150.06" y1="682.43" x2="154.64" y2="679.77" stroke="#000" stroke-width="1.25"/>
<line x1="176.70" y1="575.40" x2="203.90" y2="575.40" stroke="#000" stroke-width="1.3"/>
<text x="190.30" y="570.80" font-size="9.7" text-anchor="middle" fill="#000">ns</text>
<line x1="213.20" y1="696.30" x2="240.40" y2="696.30" stroke="#000" stroke-width="1.3"/>
<line x1="223.60" y1="687.75" x2="223.60" y2="693.05" stroke="#000" stroke-width="1.25"/>
<line x1="221.31" y1="689.07" x2="225.89" y2="691.73" stroke="#000" stroke-width="1.25"/>
<line x1="221.31" y1="691.73" x2="225.89" y2="689.07" stroke="#000" stroke-width="1.25"/>
<line x1="230.00" y1="687.75" x2="230.00" y2="693.05" stroke="#000" stroke-width="1.25"/>
<line x1="227.71" y1="689.07" x2="232.29" y2="691.73" stroke="#000" stroke-width="1.25"/>
<line x1="227.71" y1="691.73" x2="232.29" y2="689.07" stroke="#000" stroke-width="1.25"/>
<line x1="251.50" y1="694.40" x2="278.30" y2="694.40" stroke="#000" stroke-width="1.3"/>
<text x="264.90" y="689.80" font-size="9.7" text-anchor="middle" fill="#000">ns</text>
<text x="107.30" y="719.30" font-size="13" text-anchor="end" fill="#000">VSV</text>
<text x="125.90" y="728.94" font-size="13.2" text-anchor="end" fill="#000">Sec8-HA</text>
<text x="141.80" y="727.86" font-size="13" text-anchor="middle" fill="#000">-</text>
<text x="159.70" y="728.72" font-size="13" text-anchor="middle" fill="#000">+</text>
<text x="178.80" y="727.86" font-size="13" text-anchor="middle" fill="#000">-</text>
<text x="197.70" y="728.72" font-size="13" text-anchor="middle" fill="#000">+</text>
<text x="216.30" y="727.86" font-size="13" text-anchor="middle" fill="#000">-</text>
<text x="234.70" y="728.72" font-size="13" text-anchor="middle" fill="#000">+</text>
<text x="254.00" y="727.86" font-size="13" text-anchor="middle" fill="#000">-</text>
<text x="272.10" y="728.72" font-size="13" text-anchor="middle" fill="#000">+</text>
<text x="125.90" y="741.04" font-size="13.2" text-anchor="end" fill="#000">RIG-I-Flag</text>
<text x="141.80" y="739.96" font-size="13" text-anchor="middle" fill="#000">-</text>
<text x="159.70" y="739.96" font-size="13" text-anchor="middle" fill="#000">-</text>
<text x="178.80" y="739.96" font-size="13" text-anchor="middle" fill="#000">-</text>
<text x="197.70" y="739.96" font-size="13" text-anchor="middle" fill="#000">-</text>
<text x="216.30" y="740.82" font-size="13" text-anchor="middle" fill="#000">+</text>
<text x="234.70" y="740.82" font-size="13" text-anchor="middle" fill="#000">+</text>
<text x="254.00" y="739.96" font-size="13" text-anchor="middle" fill="#000">-</text>
<text x="272.10" y="739.96" font-size="13" text-anchor="middle" fill="#000">-</text>
<text x="125.90" y="753.44" font-size="13.2" text-anchor="end" fill="#000">RIG-I(K190R)-Flag</text>
<text x="141.80" y="752.36" font-size="13" text-anchor="middle" fill="#000">-</text>
<text x="159.70" y="752.36" font-size="13" text-anchor="middle" fill="#000">-</text>
<text x="178.80" y="752.36" font-size="13" text-anchor="middle" fill="#000">-</text>
<text x="197.70" y="752.36" font-size="13" text-anchor="middle" fill="#000">-</text>
<text x="216.30" y="752.36" font-size="13" text-anchor="middle" fill="#000">-</text>
<text x="234.70" y="752.36" font-size="13" text-anchor="middle" fill="#000">-</text>
<text x="254.00" y="753.22" font-size="13" text-anchor="middle" fill="#000">+</text>
<text x="272.10" y="753.22" font-size="13" text-anchor="middle" fill="#000">+</text>
<line x1="134.10" y1="758.80" x2="167.70" y2="758.80" stroke="#000" stroke-width="1.2"/>
<line x1="172.60" y1="758.80" x2="281.30" y2="758.80" stroke="#333" stroke-width="1.2"/>
<text x="152.00" y="773.94" font-size="13" text-anchor="middle" fill="#000">WT</text>
<text x="231.70" y="773.94" font-size="13" text-anchor="middle" fill="#000">RIG-I-KO</text>
<text x="0.70" y="782.68" font-size="16.5" text-anchor="start" font-weight="bold" fill="#000">O</text>
<line x1="128.30" y1="789.05" x2="128.30" y2="926.35" stroke="#000" stroke-width="1.3"/>
<line x1="124.30" y1="925.70" x2="128.30" y2="925.70" stroke="#000" stroke-width="1.3"/>
<text x="119.40" y="930.07" font-size="13" text-anchor="end" fill="#000">0</text>
<line x1="124.30" y1="913.34" x2="128.30" y2="913.34" stroke="#000" stroke-width="1.3"/>
<text x="119.40" y="917.71" font-size="13" text-anchor="end" fill="#000">1</text>
<line x1="124.30" y1="900.98" x2="128.30" y2="900.98" stroke="#000" stroke-width="1.3"/>
<text x="119.40" y="905.35" font-size="13" text-anchor="end" fill="#000">2</text>
<line x1="124.30" y1="888.62" x2="128.30" y2="888.62" stroke="#000" stroke-width="1.3"/>
<text x="119.40" y="892.99" font-size="13" text-anchor="end" fill="#000">3</text>
<line x1="124.30" y1="876.26" x2="128.30" y2="876.26" stroke="#000" stroke-width="1.3"/>
<text x="119.40" y="880.63" font-size="13" text-anchor="end" fill="#000">4</text>
<line x1="124.30" y1="863.90" x2="128.30" y2="863.90" stroke="#000" stroke-width="1.3"/>
<text x="119.40" y="868.27" font-size="13" text-anchor="end" fill="#000">5</text>
<line x1="124.30" y1="851.54" x2="128.30" y2="851.54" stroke="#000" stroke-width="1.3"/>
<text x="119.40" y="855.91" font-size="13" text-anchor="end" fill="#000">6</text>
<line x1="124.30" y1="839.18" x2="128.30" y2="839.18" stroke="#000" stroke-width="1.3"/>
<text x="119.40" y="843.55" font-size="13" text-anchor="end" fill="#000">7</text>
<line x1="124.30" y1="826.82" x2="128.30" y2="826.82" stroke="#000" stroke-width="1.3"/>
<text x="119.40" y="831.19" font-size="13" text-anchor="end" fill="#000">8</text>
<line x1="124.30" y1="814.46" x2="128.30" y2="814.46" stroke="#000" stroke-width="1.3"/>
<text x="119.40" y="818.83" font-size="13" text-anchor="end" fill="#000">9</text>
<line x1="124.30" y1="802.10" x2="128.30" y2="802.10" stroke="#000" stroke-width="1.3"/>
<text x="119.40" y="806.47" font-size="13" text-anchor="end" fill="#000">10</text>
<line x1="124.30" y1="789.74" x2="128.30" y2="789.74" stroke="#000" stroke-width="1.3"/>
<text x="119.40" y="794.11" font-size="13" text-anchor="end" fill="#000">11</text>
<text transform="translate(98.37,848.20) rotate(-90)" x="0" y="0" font-size="13" text-anchor="middle" textLength="136.2" lengthAdjust="spacingAndGlyphs">Viral titer(logTCID<tspan font-size="7.8" dy="3.4">50</tspan><tspan dy="-3.4">/ml)</tspan></text>
<line x1="127.65" y1="925.70" x2="286.80" y2="925.70" stroke="#000" stroke-width="1.3"/>
<line x1="141.00" y1="925.70" x2="141.00" y2="930.70" stroke="#000" stroke-width="1.3"/>
<line x1="160.00" y1="925.70" x2="160.00" y2="930.70" stroke="#000" stroke-width="1.3"/>
<line x1="179.10" y1="925.70" x2="179.10" y2="930.70" stroke="#000" stroke-width="1.3"/>
<line x1="198.00" y1="925.70" x2="198.00" y2="930.70" stroke="#000" stroke-width="1.3"/>
<line x1="216.70" y1="925.70" x2="216.70" y2="930.70" stroke="#000" stroke-width="1.3"/>
<line x1="235.60" y1="925.70" x2="235.60" y2="930.70" stroke="#000" stroke-width="1.3"/>
<line x1="254.80" y1="925.70" x2="254.80" y2="930.70" stroke="#000" stroke-width="1.3"/>
<line x1="274.20" y1="925.70" x2="274.20" y2="930.70" stroke="#000" stroke-width="1.3"/>
<rect x="134.50" y="815.20" width="12.60" height="110.50" fill="#ccccff"/>
<line x1="140.80" y1="814.50" x2="140.80" y2="815.70" stroke="#ccccff" stroke-width="1.0"/>
<line x1="137.80" y1="814.50" x2="143.80" y2="814.50" stroke="#ccccff" stroke-width="1.0"/>
<rect x="153.60" y="824.40" width="12.60" height="101.30" fill="#99ccff"/>
<line x1="159.90" y1="822.00" x2="159.90" y2="824.90" stroke="#99ccff" stroke-width="1.0"/>
<line x1="156.90" y1="822.00" x2="162.90" y2="822.00" stroke="#99ccff" stroke-width="1.0"/>
<rect x="172.50" y="803.60" width="12.70" height="122.10" fill="#6699cc"/>
<line x1="178.85" y1="802.00" x2="178.85" y2="804.10" stroke="#6699cc" stroke-width="1.0"/>
<line x1="175.85" y1="802.00" x2="181.85" y2="802.00" stroke="#6699cc" stroke-width="1.0"/>
<rect x="191.70" y="803.60" width="12.40" height="122.10" fill="#666699"/>
<line x1="197.90" y1="803.00" x2="197.90" y2="804.10" stroke="#666699" stroke-width="1.0"/>
<line x1="194.90" y1="803.00" x2="200.90" y2="803.00" stroke="#666699" stroke-width="1.0"/>
<rect x="210.60" y="821.50" width="12.40" height="104.20" fill="#9370db"/>
<line x1="216.80" y1="820.80" x2="216.80" y2="822.00" stroke="#9370db" stroke-width="1.0"/>
<line x1="213.80" y1="820.80" x2="219.80" y2="820.80" stroke="#9370db" stroke-width="1.0"/>
<rect x="230.60" y="833.90" width="10.80" height="91.80" fill="#cce0f5" stroke="#6699cc" stroke-width="1.6"/>
<line x1="236.00" y1="831.20" x2="236.00" y2="834.70" stroke="#6699cc" stroke-width="1.0"/>
<line x1="233.00" y1="831.20" x2="239.00" y2="831.20" stroke="#6699cc" stroke-width="1.0"/>
<rect x="249.50" y="819.40" width="10.80" height="106.30" fill="#ccccff" stroke="#666699" stroke-width="1.6"/>
<line x1="254.90" y1="816.80" x2="254.90" y2="820.20" stroke="#666699" stroke-width="1.0"/>
<line x1="251.90" y1="816.80" x2="257.90" y2="816.80" stroke="#666699" stroke-width="1.0"/>
<rect x="267.70" y="818.60" width="12.60" height="107.10" fill="#93619c"/>
<line x1="274.00" y1="818.00" x2="274.00" y2="819.10" stroke="#93619c" stroke-width="1.0"/>
<line x1="271.00" y1="818.00" x2="277.00" y2="818.00" stroke="#93619c" stroke-width="1.0"/>
<line x1="136.30" y1="807.30" x2="163.40" y2="807.30" stroke="#000" stroke-width="1.3"/>
<line x1="146.65" y1="798.75" x2="146.65" y2="804.05" stroke="#000" stroke-width="1.25"/>
<line x1="144.36" y1="800.07" x2="148.94" y2="802.73" stroke="#000" stroke-width="1.25"/>
<line x1="144.36" y1="802.73" x2="148.94" y2="800.07" stroke="#000" stroke-width="1.25"/>
<line x1="153.05" y1="798.75" x2="153.05" y2="804.05" stroke="#000" stroke-width="1.25"/>
<line x1="150.76" y1="800.07" x2="155.34" y2="802.73" stroke="#000" stroke-width="1.25"/>
<line x1="150.76" y1="802.73" x2="155.34" y2="800.07" stroke="#000" stroke-width="1.25"/>
<line x1="174.40" y1="795.70" x2="202.20" y2="795.70" stroke="#000" stroke-width="1.3"/>
<text x="188.30" y="791.10" font-size="9.7" text-anchor="middle" fill="#000">ns</text>
<line x1="214.60" y1="813.90" x2="242.20" y2="813.90" stroke="#000" stroke-width="1.3"/>
<line x1="225.20" y1="805.35" x2="225.20" y2="810.65" stroke="#000" stroke-width="1.25"/>
<line x1="222.91" y1="806.67" x2="227.49" y2="809.33" stroke="#000" stroke-width="1.25"/>
<line x1="222.91" y1="809.33" x2="227.49" y2="806.67" stroke="#000" stroke-width="1.25"/>
<line x1="231.60" y1="805.35" x2="231.60" y2="810.65" stroke="#000" stroke-width="1.25"/>
<line x1="229.31" y1="806.67" x2="233.89" y2="809.33" stroke="#000" stroke-width="1.25"/>
<line x1="229.31" y1="809.33" x2="233.89" y2="806.67" stroke="#000" stroke-width="1.25"/>
<line x1="250.60" y1="808.40" x2="277.60" y2="808.40" stroke="#000" stroke-width="1.3"/>
<text x="264.10" y="803.80" font-size="9.7" text-anchor="middle" fill="#000">ns</text>
<text x="104.30" y="930.20" font-size="13" text-anchor="end" fill="#000">VSV</text>
<text x="124.60" y="941.04" font-size="13.2" text-anchor="end" fill="#000">Sec8-HA</text>
<text x="141.00" y="939.96" font-size="13" text-anchor="middle" fill="#000">-</text>
<text x="160.00" y="940.82" font-size="13" text-anchor="middle" fill="#000">+</text>
<text x="179.10" y="939.96" font-size="13" text-anchor="middle" fill="#000">-</text>
<text x="198.00" y="940.82" font-size="13" text-anchor="middle" fill="#000">+</text>
<text x="216.70" y="939.96" font-size="13" text-anchor="middle" fill="#000">-</text>
<text x="235.60" y="940.82" font-size="13" text-anchor="middle" fill="#000">+</text>
<text x="254.80" y="939.96" font-size="13" text-anchor="middle" fill="#000">-</text>
<text x="274.20" y="940.82" font-size="13" text-anchor="middle" fill="#000">+</text>
<text x="124.60" y="953.24" font-size="13.2" text-anchor="end" fill="#000">RIG-I-Flag</text>
<text x="141.00" y="952.16" font-size="13" text-anchor="middle" fill="#000">-</text>
<text x="160.00" y="952.16" font-size="13" text-anchor="middle" fill="#000">-</text>
<text x="179.10" y="952.16" font-size="13" text-anchor="middle" fill="#000">-</text>
<text x="198.00" y="952.16" font-size="13" text-anchor="middle" fill="#000">-</text>
<text x="216.70" y="953.02" font-size="13" text-anchor="middle" fill="#000">+</text>
<text x="235.60" y="953.02" font-size="13" text-anchor="middle" fill="#000">+</text>
<text x="254.80" y="952.16" font-size="13" text-anchor="middle" fill="#000">-</text>
<text x="274.20" y="952.16" font-size="13" text-anchor="middle" fill="#000">-</text>
<text x="124.60" y="965.64" font-size="13.2" text-anchor="end" fill="#000">RIG-I(K190R)-Flag</text>
<text x="141.00" y="964.56" font-size="13" text-anchor="middle" fill="#000">-</text>
<text x="160.00" y="964.56" font-size="13" text-anchor="middle" fill="#000">-</text>
<text x="179.10" y="964.56" font-size="13" text-anchor="middle" fill="#000">-</text>
<text x="198.00" y="964.56" font-size="13" text-anchor="middle" fill="#000">-</text>
<text x="216.70" y="964.56" font-size="13" text-anchor="middle" fill="#000">-</text>
<text x="235.60" y="964.56" font-size="13" text-anchor="middle" fill="#000">-</text>
<text x="254.80" y="965.42" font-size="13" text-anchor="middle" fill="#000">+</text>
<text x="274.20" y="965.42" font-size="13" text-anchor="middle" fill="#000">+</text>
<line x1="132.60" y1="971.50" x2="166.50" y2="971.50" stroke="#000" stroke-width="1.2"/>
<line x1="171.80" y1="971.50" x2="280.30" y2="971.50" stroke="#333" stroke-width="1.2"/>
<text x="150.80" y="986.54" font-size="13" text-anchor="middle" fill="#000">WT</text>
<text x="230.80" y="986.54" font-size="13" text-anchor="middle" fill="#000">RIG-I-KO</text>
<text x="322.55" y="353.58" font-size="16.5" text-anchor="start" font-weight="bold" fill="#000">J</text>
<line x1="379.60" y1="370.45" x2="379.60" y2="497.95" stroke="#000" stroke-width="1.3"/>
<line x1="375.60" y1="371.20" x2="379.60" y2="371.20" stroke="#000" stroke-width="1.3"/>
<text x="373.90" y="375.67" font-size="13" text-anchor="end" fill="#000">2.0</text>
<line x1="375.60" y1="402.40" x2="379.60" y2="402.40" stroke="#000" stroke-width="1.3"/>
<text x="373.90" y="406.87" font-size="13" text-anchor="end" fill="#000">1.5</text>
<line x1="375.60" y1="434.00" x2="379.60" y2="434.00" stroke="#000" stroke-width="1.3"/>
<text x="373.90" y="438.47" font-size="13" text-anchor="end" fill="#000">1.0</text>
<line x1="375.60" y1="465.90" x2="379.60" y2="465.90" stroke="#000" stroke-width="1.3"/>
<text x="373.90" y="470.37" font-size="13" text-anchor="end" fill="#000">0.5</text>
<line x1="375.60" y1="496.90" x2="379.60" y2="496.90" stroke="#000" stroke-width="1.3"/>
<text x="373.90" y="501.37" font-size="13" text-anchor="end" fill="#000">0.0</text>
<text transform="translate(352.47,416.40) rotate(-90)" x="0" y="0" font-size="13" text-anchor="middle" textLength="140.2" lengthAdjust="spacingAndGlyphs">Rel. IFN-β. mRNA (fold)</text>
<line x1="378.95" y1="497.30" x2="471.30" y2="497.30" stroke="#000" stroke-width="1.3"/>
<line x1="394.30" y1="497.30" x2="394.30" y2="502.30" stroke="#000" stroke-width="1.3"/>
<line x1="416.60" y1="497.30" x2="416.60" y2="502.30" stroke="#000" stroke-width="1.3"/>
<line x1="439.00" y1="497.30" x2="439.00" y2="502.30" stroke="#000" stroke-width="1.3"/>
<line x1="460.60" y1="497.30" x2="460.60" y2="502.30" stroke="#000" stroke-width="1.3"/>
<rect x="387.75" y="432.35" width="13.10" height="64.95" fill="#fff" stroke="#ccccff" stroke-width="1.5"/>
<line x1="394.30" y1="429.80" x2="394.30" y2="433.10" stroke="#ccccff" stroke-width="1.0"/>
<line x1="391.80" y1="429.80" x2="396.80" y2="429.80" stroke="#ccccff" stroke-width="1.0"/>
<line x1="394.30" y1="431.60" x2="394.30" y2="433.40" stroke="#ccccff" stroke-width="1.0"/>
<line x1="391.80" y1="433.40" x2="396.80" y2="433.40" stroke="#ccccff" stroke-width="1.0"/>
<circle cx="395.00" cy="426.90" r="2.00" fill="#ccccff"/>
<circle cx="400.50" cy="431.50" r="2.00" fill="#ccccff"/>
<circle cx="388.80" cy="433.60" r="2.00" fill="#ccccff"/>
<rect x="410.05" y="464.55" width="13.10" height="32.75" fill="#fff" stroke="#99ccff" stroke-width="1.5"/>
<line x1="416.60" y1="462.00" x2="416.60" y2="465.30" stroke="#99ccff" stroke-width="1.0"/>
<line x1="414.10" y1="462.00" x2="419.10" y2="462.00" stroke="#99ccff" stroke-width="1.0"/>
<line x1="416.60" y1="463.80" x2="416.60" y2="465.60" stroke="#99ccff" stroke-width="1.0"/>
<line x1="414.10" y1="465.60" x2="419.10" y2="465.60" stroke="#99ccff" stroke-width="1.0"/>
<rect x="415.10" y="456.80" width="4.00" height="4.00" fill="#99ccff"/>
<rect x="409.60" y="462.80" width="4.00" height="4.00" fill="#99ccff"/>
<rect x="419.60" y="462.80" width="4.00" height="4.00" fill="#99ccff"/>
<rect x="432.45" y="390.35" width="13.10" height="106.95" fill="#fff" stroke="#6699cc" stroke-width="1.5"/>
<line x1="439.00" y1="378.50" x2="439.00" y2="391.10" stroke="#6699cc" stroke-width="1.0"/>
<line x1="436.50" y1="378.50" x2="441.50" y2="378.50" stroke="#6699cc" stroke-width="1.0"/>
<line x1="439.00" y1="389.60" x2="439.00" y2="400.00" stroke="#6699cc" stroke-width="1.0"/>
<line x1="436.50" y1="400.00" x2="441.50" y2="400.00" stroke="#6699cc" stroke-width="1.0"/>
<polygon points="439.00,380.80 436.80,385.00 441.20,385.00" fill="#6699cc"/>
<polygon points="444.00,380.10 441.80,384.30 446.20,384.30" fill="#6699cc"/>
<polygon points="439.00,399.20 436.80,403.40 441.20,403.40" fill="#6699cc"/>
<rect x="454.05" y="393.35" width="13.10" height="103.95" fill="#fff" stroke="#666699" stroke-width="1.5"/>
<line x1="460.60" y1="388.00" x2="460.60" y2="394.10" stroke="#666699" stroke-width="1.0"/>
<line x1="458.10" y1="388.00" x2="463.10" y2="388.00" stroke="#666699" stroke-width="1.0"/>
<line x1="460.60" y1="392.60" x2="460.60" y2="394.40" stroke="#666699" stroke-width="1.0"/>
<line x1="458.10" y1="394.40" x2="463.10" y2="394.40" stroke="#666699" stroke-width="1.0"/>
<polygon points="460.10,390.40 457.90,386.20 462.30,386.20" fill="#666699"/>
<polygon points="465.60,393.90 463.40,389.70 467.80,389.70" fill="#666699"/>
<polygon points="455.10,397.40 452.90,393.20 457.30,393.20" fill="#666699"/>
<line x1="391.00" y1="417.80" x2="419.20" y2="417.80" stroke="#000" stroke-width="1.3"/>
<line x1="401.90" y1="409.25" x2="401.90" y2="414.55" stroke="#000" stroke-width="1.25"/>
<line x1="399.61" y1="410.58" x2="404.19" y2="413.23" stroke="#000" stroke-width="1.25"/>
<line x1="399.61" y1="413.23" x2="404.19" y2="410.58" stroke="#000" stroke-width="1.25"/>
<line x1="408.30" y1="409.25" x2="408.30" y2="414.55" stroke="#000" stroke-width="1.25"/>
<line x1="406.01" y1="410.58" x2="410.59" y2="413.23" stroke="#000" stroke-width="1.25"/>
<line x1="406.01" y1="413.23" x2="410.59" y2="410.58" stroke="#000" stroke-width="1.25"/>
<line x1="437.50" y1="370.90" x2="463.60" y2="370.90" stroke="#000" stroke-width="1.3"/>
<text x="450.55" y="366.30" font-size="9.7" text-anchor="middle" fill="#000">ns</text>
<text x="354.20" y="500.10" font-size="13" text-anchor="end" fill="#000">VSV</text>
<text x="382.50" y="517.87" font-size="13" text-anchor="end" fill="#000">shNC</text>
<text x="394.30" y="517.72" font-size="13" text-anchor="middle" fill="#000">+</text>
<text x="416.60" y="516.86" font-size="13" text-anchor="middle" fill="#000">-</text>
<text x="439.00" y="517.72" font-size="13" text-anchor="middle" fill="#000">+</text>
<text x="460.60" y="516.86" font-size="13" text-anchor="middle" fill="#000">-</text>
<text x="382.50" y="530.37" font-size="13" text-anchor="end" fill="#000">shSec8</text>
<text x="394.30" y="529.36" font-size="13" text-anchor="middle" fill="#000">-</text>
<text x="416.60" y="530.22" font-size="13" text-anchor="middle" fill="#000">+</text>
<text x="439.00" y="529.36" font-size="13" text-anchor="middle" fill="#000">-</text>
<text x="460.60" y="530.22" font-size="13" text-anchor="middle" fill="#000">+</text>
<text x="382.50" y="542.87" font-size="13" text-anchor="end" fill="#000">shSTUB1</text>
<text x="394.30" y="541.86" font-size="13" text-anchor="middle" fill="#000">-</text>
<text x="416.60" y="541.86" font-size="13" text-anchor="middle" fill="#000">-</text>
<text x="439.00" y="542.72" font-size="13" text-anchor="middle" fill="#000">+</text>
<text x="460.60" y="542.72" font-size="13" text-anchor="middle" fill="#000">+</text>
<text x="516.00" y="352.38" font-size="16.5" text-anchor="start" font-weight="bold" fill="#000">K</text>
<line x1="578.60" y1="368.75" x2="578.60" y2="497.25" stroke="#000" stroke-width="1.3"/>
<line x1="574.60" y1="369.40" x2="578.60" y2="369.40" stroke="#000" stroke-width="1.3"/>
<text x="571.60" y="373.87" font-size="13" text-anchor="end" fill="#000">2.0</text>
<line x1="574.60" y1="401.40" x2="578.60" y2="401.40" stroke="#000" stroke-width="1.3"/>
<text x="571.60" y="405.87" font-size="13" text-anchor="end" fill="#000">1.5</text>
<line x1="574.60" y1="433.20" x2="578.60" y2="433.20" stroke="#000" stroke-width="1.3"/>
<text x="571.60" y="437.67" font-size="13" text-anchor="end" fill="#000">1.0</text>
<line x1="574.60" y1="465.20" x2="578.60" y2="465.20" stroke="#000" stroke-width="1.3"/>
<text x="571.60" y="469.67" font-size="13" text-anchor="end" fill="#000">0.5</text>
<line x1="574.60" y1="496.60" x2="578.60" y2="496.60" stroke="#000" stroke-width="1.3"/>
<text x="571.60" y="501.07" font-size="13" text-anchor="end" fill="#000">0.0</text>
<text transform="translate(546.97,416.50) rotate(-90)" x="0" y="0" font-size="13" text-anchor="middle" textLength="140.0" lengthAdjust="spacingAndGlyphs">Rel. IFN-β. mRNA (fold)</text>
<line x1="577.95" y1="496.60" x2="674.60" y2="496.60" stroke="#000" stroke-width="1.3"/>
<line x1="592.90" y1="496.60" x2="592.90" y2="501.60" stroke="#000" stroke-width="1.3"/>
<line x1="615.10" y1="496.60" x2="615.10" y2="501.60" stroke="#000" stroke-width="1.3"/>
<line x1="637.40" y1="496.60" x2="637.40" y2="501.60" stroke="#000" stroke-width="1.3"/>
<line x1="659.60" y1="496.60" x2="659.60" y2="501.60" stroke="#000" stroke-width="1.3"/>
<rect x="586.35" y="429.45" width="13.10" height="67.15" fill="#fff" stroke="#ccccff" stroke-width="1.5"/>
<line x1="592.90" y1="425.50" x2="592.90" y2="430.20" stroke="#ccccff" stroke-width="1.0"/>
<line x1="590.40" y1="425.50" x2="595.40" y2="425.50" stroke="#ccccff" stroke-width="1.0"/>
<line x1="592.90" y1="428.70" x2="592.90" y2="432.50" stroke="#ccccff" stroke-width="1.0"/>
<line x1="590.40" y1="432.50" x2="595.40" y2="432.50" stroke="#ccccff" stroke-width="1.0"/>
<circle cx="598.20" cy="425.00" r="2.00" fill="#ccccff"/>
<circle cx="592.80" cy="426.50" r="2.00" fill="#ccccff"/>
<circle cx="592.80" cy="433.10" r="2.00" fill="#ccccff"/>
<rect x="608.55" y="472.55" width="13.10" height="24.05" fill="#fff" stroke="#99ccff" stroke-width="1.5"/>
<line x1="615.10" y1="469.50" x2="615.10" y2="473.30" stroke="#99ccff" stroke-width="1.0"/>
<line x1="612.60" y1="469.50" x2="617.60" y2="469.50" stroke="#99ccff" stroke-width="1.0"/>
<line x1="615.10" y1="471.80" x2="615.10" y2="474.00" stroke="#99ccff" stroke-width="1.0"/>
<line x1="612.60" y1="474.00" x2="617.60" y2="474.00" stroke="#99ccff" stroke-width="1.0"/>
<rect x="608.60" y="469.80" width="4.00" height="4.00" fill="#99ccff"/>
<rect x="613.10" y="468.30" width="4.00" height="4.00" fill="#99ccff"/>
<rect x="617.60" y="470.30" width="4.00" height="4.00" fill="#99ccff"/>
<rect x="630.85" y="386.65" width="13.10" height="109.95" fill="#fff" stroke="#6699cc" stroke-width="1.5"/>
<line x1="637.40" y1="382.50" x2="637.40" y2="387.40" stroke="#6699cc" stroke-width="1.0"/>
<line x1="634.90" y1="382.50" x2="639.90" y2="382.50" stroke="#6699cc" stroke-width="1.0"/>
<line x1="637.40" y1="385.90" x2="637.40" y2="390.00" stroke="#6699cc" stroke-width="1.0"/>
<line x1="634.90" y1="390.00" x2="639.90" y2="390.00" stroke="#6699cc" stroke-width="1.0"/>
<polygon points="637.40,378.10 635.20,382.30 639.60,382.30" fill="#6699cc"/>
<polygon points="643.40,383.80 641.20,388.00 645.60,388.00" fill="#6699cc"/>
<polygon points="632.40,387.50 630.20,391.70 634.60,391.70" fill="#6699cc"/>
<rect x="653.05" y="389.65" width="13.10" height="106.95" fill="#fff" stroke="#666699" stroke-width="1.5"/>
<line x1="659.60" y1="386.50" x2="659.60" y2="390.40" stroke="#666699" stroke-width="1.0"/>
<line x1="657.10" y1="386.50" x2="662.10" y2="386.50" stroke="#666699" stroke-width="1.0"/>
<line x1="659.60" y1="388.90" x2="659.60" y2="391.00" stroke="#666699" stroke-width="1.0"/>
<line x1="657.10" y1="391.00" x2="662.10" y2="391.00" stroke="#666699" stroke-width="1.0"/>
<polygon points="659.60,387.80 657.40,383.60 661.80,383.60" fill="#666699"/>
<polygon points="665.60,390.30 663.40,386.10 667.80,386.10" fill="#666699"/>
<polygon points="654.60,394.30 652.40,390.10 656.80,390.10" fill="#666699"/>
<line x1="589.80" y1="417.30" x2="616.80" y2="417.30" stroke="#000" stroke-width="1.3"/>
<line x1="600.10" y1="408.75" x2="600.10" y2="414.05" stroke="#000" stroke-width="1.25"/>
<line x1="597.81" y1="410.08" x2="602.39" y2="412.73" stroke="#000" stroke-width="1.25"/>
<line x1="597.81" y1="412.73" x2="602.39" y2="410.08" stroke="#000" stroke-width="1.25"/>
<line x1="606.50" y1="408.75" x2="606.50" y2="414.05" stroke="#000" stroke-width="1.25"/>
<line x1="604.21" y1="410.08" x2="608.79" y2="412.73" stroke="#000" stroke-width="1.25"/>
<line x1="604.21" y1="412.73" x2="608.79" y2="410.08" stroke="#000" stroke-width="1.25"/>
<line x1="635.00" y1="372.70" x2="662.60" y2="372.70" stroke="#000" stroke-width="1.3"/>
<text x="648.80" y="368.10" font-size="9.7" text-anchor="middle" fill="#000">ns</text>
<text x="550.30" y="500.10" font-size="13" text-anchor="end" fill="#000">VSV</text>
<text x="581.20" y="516.27" font-size="13" text-anchor="end" fill="#000">shNC</text>
<text x="592.90" y="516.12" font-size="13" text-anchor="middle" fill="#000">+</text>
<text x="615.10" y="515.26" font-size="13" text-anchor="middle" fill="#000">-</text>
<text x="637.40" y="516.12" font-size="13" text-anchor="middle" fill="#000">+</text>
<text x="659.60" y="515.26" font-size="13" text-anchor="middle" fill="#000">-</text>
<text x="581.20" y="528.97" font-size="13" text-anchor="end" fill="#000">shSec8</text>
<text x="592.90" y="527.96" font-size="13" text-anchor="middle" fill="#000">-</text>
<text x="615.10" y="528.82" font-size="13" text-anchor="middle" fill="#000">+</text>
<text x="637.40" y="527.96" font-size="13" text-anchor="middle" fill="#000">-</text>
<text x="659.60" y="528.82" font-size="13" text-anchor="middle" fill="#000">+</text>
<text x="581.20" y="542.07" font-size="13" text-anchor="end" fill="#000">DMSO</text>
<text x="592.90" y="541.92" font-size="13" text-anchor="middle" fill="#000">+</text>
<text x="615.10" y="541.92" font-size="13" text-anchor="middle" fill="#000">+</text>
<text x="637.40" y="541.06" font-size="13" text-anchor="middle" fill="#000">-</text>
<text x="659.60" y="541.06" font-size="13" text-anchor="middle" fill="#000">-</text>
<text x="581.20" y="554.77" font-size="13" text-anchor="end" fill="#000">PFT-α</text>
<text x="592.90" y="553.76" font-size="13" text-anchor="middle" fill="#000">-</text>
<text x="615.10" y="553.76" font-size="13" text-anchor="middle" fill="#000">-</text>
<text x="637.40" y="554.62" font-size="13" text-anchor="middle" fill="#000">+</text>
<text x="659.60" y="554.62" font-size="13" text-anchor="middle" fill="#000">+</text>
<text x="320.70" y="568.88" font-size="16.5" text-anchor="start" font-weight="bold" fill="#000">M</text>
<line x1="379.60" y1="587.65" x2="379.60" y2="715.25" stroke="#000" stroke-width="1.3"/>
<line x1="375.60" y1="588.30" x2="379.60" y2="588.30" stroke="#000" stroke-width="1.3"/>
<text x="372.40" y="592.77" font-size="13" text-anchor="end" fill="#000">4</text>
<line x1="375.60" y1="619.90" x2="379.60" y2="619.90" stroke="#000" stroke-width="1.3"/>
<text x="372.40" y="624.37" font-size="13" text-anchor="end" fill="#000">3</text>
<line x1="375.60" y1="651.20" x2="379.60" y2="651.20" stroke="#000" stroke-width="1.3"/>
<text x="372.40" y="655.67" font-size="13" text-anchor="end" fill="#000">2</text>
<line x1="375.60" y1="682.70" x2="379.60" y2="682.70" stroke="#000" stroke-width="1.3"/>
<text x="372.40" y="687.17" font-size="13" text-anchor="end" fill="#000">1</text>
<line x1="375.60" y1="714.60" x2="379.60" y2="714.60" stroke="#000" stroke-width="1.3"/>
<text x="372.40" y="719.07" font-size="13" text-anchor="end" fill="#000">0</text>
<text transform="translate(358.87,632.75) rotate(-90)" x="0" y="0" font-size="13" text-anchor="middle" textLength="147.5" lengthAdjust="spacingAndGlyphs">Rel. VSV-G. mRNA (fold)</text>
<line x1="378.95" y1="714.60" x2="473.70" y2="714.60" stroke="#000" stroke-width="1.3"/>
<line x1="393.60" y1="714.60" x2="393.60" y2="719.60" stroke="#000" stroke-width="1.3"/>
<line x1="415.60" y1="714.60" x2="415.60" y2="719.60" stroke="#000" stroke-width="1.3"/>
<line x1="437.50" y1="714.60" x2="437.50" y2="719.60" stroke="#000" stroke-width="1.3"/>
<line x1="459.50" y1="714.60" x2="459.50" y2="719.60" stroke="#000" stroke-width="1.3"/>
<rect x="387.05" y="683.45" width="13.10" height="31.15" fill="#fff" stroke="#ccccff" stroke-width="1.5"/>
<line x1="393.60" y1="680.90" x2="393.60" y2="684.20" stroke="#ccccff" stroke-width="1.0"/>
<line x1="391.10" y1="680.90" x2="396.10" y2="680.90" stroke="#ccccff" stroke-width="1.0"/>
<line x1="393.60" y1="682.70" x2="393.60" y2="684.50" stroke="#ccccff" stroke-width="1.0"/>
<line x1="391.10" y1="684.50" x2="396.10" y2="684.50" stroke="#ccccff" stroke-width="1.0"/>
<circle cx="389.60" cy="682.70" r="2.00" fill="#ccccff"/>
<circle cx="394.10" cy="682.70" r="2.00" fill="#ccccff"/>
<circle cx="398.10" cy="682.70" r="2.00" fill="#ccccff"/>
<rect x="409.05" y="627.35" width="13.10" height="87.25" fill="#fff" stroke="#99ccff" stroke-width="1.5"/>
<line x1="415.60" y1="608.20" x2="415.60" y2="628.10" stroke="#99ccff" stroke-width="1.0"/>
<line x1="413.10" y1="608.20" x2="418.10" y2="608.20" stroke="#99ccff" stroke-width="1.0"/>
<line x1="415.60" y1="626.60" x2="415.60" y2="640.40" stroke="#99ccff" stroke-width="1.0"/>
<line x1="413.10" y1="640.40" x2="418.10" y2="640.40" stroke="#99ccff" stroke-width="1.0"/>
<rect x="413.60" y="607.10" width="4.00" height="4.00" fill="#99ccff"/>
<rect x="413.60" y="627.60" width="4.00" height="4.00" fill="#99ccff"/>
<rect x="413.60" y="636.10" width="4.00" height="4.00" fill="#99ccff"/>
<rect x="430.95" y="702.45" width="13.10" height="12.15" fill="#fff" stroke="#6699cc" stroke-width="1.5"/>
<line x1="437.50" y1="699.90" x2="437.50" y2="703.20" stroke="#6699cc" stroke-width="1.0"/>
<line x1="435.00" y1="699.90" x2="440.00" y2="699.90" stroke="#6699cc" stroke-width="1.0"/>
<line x1="437.50" y1="701.70" x2="437.50" y2="703.50" stroke="#6699cc" stroke-width="1.0"/>
<line x1="435.00" y1="703.50" x2="440.00" y2="703.50" stroke="#6699cc" stroke-width="1.0"/>
<polygon points="433.00,699.30 430.80,703.50 435.20,703.50" fill="#6699cc"/>
<polygon points="437.50,697.80 435.30,702.00 439.70,702.00" fill="#6699cc"/>
<polygon points="442.00,699.30 439.80,703.50 444.20,703.50" fill="#6699cc"/>
<rect x="452.95" y="700.95" width="13.10" height="13.65" fill="#fff" stroke="#666699" stroke-width="1.5"/>
<line x1="459.50" y1="698.40" x2="459.50" y2="701.70" stroke="#666699" stroke-width="1.0"/>
<line x1="457.00" y1="698.40" x2="462.00" y2="698.40" stroke="#666699" stroke-width="1.0"/>
<line x1="459.50" y1="700.20" x2="459.50" y2="702.00" stroke="#666699" stroke-width="1.0"/>
<line x1="457.00" y1="702.00" x2="462.00" y2="702.00" stroke="#666699" stroke-width="1.0"/>
<polygon points="455.00,702.60 452.80,698.40 457.20,698.40" fill="#666699"/>
<polygon points="459.50,702.10 457.30,697.90 461.70,697.90" fill="#666699"/>
<polygon points="464.00,702.60 461.80,698.40 466.20,698.40" fill="#666699"/>
<line x1="391.60" y1="599.00" x2="418.50" y2="599.00" stroke="#000" stroke-width="1.3"/>
<line x1="401.85" y1="590.45" x2="401.85" y2="595.75" stroke="#000" stroke-width="1.25"/>
<line x1="399.56" y1="591.77" x2="404.14" y2="594.43" stroke="#000" stroke-width="1.25"/>
<line x1="399.56" y1="594.43" x2="404.14" y2="591.77" stroke="#000" stroke-width="1.25"/>
<line x1="408.25" y1="590.45" x2="408.25" y2="595.75" stroke="#000" stroke-width="1.25"/>
<line x1="405.96" y1="591.77" x2="410.54" y2="594.43" stroke="#000" stroke-width="1.25"/>
<line x1="405.96" y1="594.43" x2="410.54" y2="591.77" stroke="#000" stroke-width="1.25"/>
<line x1="434.50" y1="687.00" x2="460.50" y2="687.00" stroke="#000" stroke-width="1.3"/>
<text x="447.50" y="682.40" font-size="9.7" text-anchor="middle" fill="#000">ns</text>
<text x="360.00" y="720.00" font-size="13" text-anchor="end" fill="#000">VSV</text>
<text x="380.90" y="733.57" font-size="13" text-anchor="end" fill="#000">shNC</text>
<text x="393.60" y="733.42" font-size="13" text-anchor="middle" fill="#000">+</text>
<text x="415.60" y="732.56" font-size="13" text-anchor="middle" fill="#000">-</text>
<text x="437.50" y="733.42" font-size="13" text-anchor="middle" fill="#000">+</text>
<text x="459.50" y="732.56" font-size="13" text-anchor="middle" fill="#000">-</text>
<text x="380.90" y="746.37" font-size="13" text-anchor="end" fill="#000">shSec8</text>
<text x="393.60" y="745.36" font-size="13" text-anchor="middle" fill="#000">-</text>
<text x="415.60" y="746.22" font-size="13" text-anchor="middle" fill="#000">+</text>
<text x="437.50" y="745.36" font-size="13" text-anchor="middle" fill="#000">-</text>
<text x="459.50" y="746.22" font-size="13" text-anchor="middle" fill="#000">+</text>
<text x="380.90" y="759.27" font-size="13" text-anchor="end" fill="#000">shSTUB1</text>
<text x="393.60" y="758.26" font-size="13" text-anchor="middle" fill="#000">-</text>
<text x="415.60" y="758.26" font-size="13" text-anchor="middle" fill="#000">-</text>
<text x="437.50" y="759.12" font-size="13" text-anchor="middle" fill="#000">+</text>
<text x="459.50" y="759.12" font-size="13" text-anchor="middle" fill="#000">+</text>
<text x="515.80" y="568.68" font-size="16.5" text-anchor="start" font-weight="bold" fill="#000">N</text>
<line x1="586.20" y1="582.95" x2="586.20" y2="711.95" stroke="#000" stroke-width="1.3"/>
<line x1="582.20" y1="583.80" x2="586.20" y2="583.80" stroke="#000" stroke-width="1.3"/>
<text x="578.90" y="588.27" font-size="13" text-anchor="end" fill="#000">2.5</text>
<line x1="582.20" y1="609.30" x2="586.20" y2="609.30" stroke="#000" stroke-width="1.3"/>
<text x="578.90" y="613.77" font-size="13" text-anchor="end" fill="#000">2.0</text>
<line x1="582.20" y1="634.70" x2="586.20" y2="634.70" stroke="#000" stroke-width="1.3"/>
<text x="578.90" y="639.17" font-size="13" text-anchor="end" fill="#000">1.5</text>
<line x1="582.20" y1="660.10" x2="586.20" y2="660.10" stroke="#000" stroke-width="1.3"/>
<text x="578.90" y="664.57" font-size="13" text-anchor="end" fill="#000">1.0</text>
<line x1="582.20" y1="685.60" x2="586.20" y2="685.60" stroke="#000" stroke-width="1.3"/>
<text x="578.90" y="690.07" font-size="13" text-anchor="end" fill="#000">0.5</text>
<line x1="582.20" y1="711.00" x2="586.20" y2="711.00" stroke="#000" stroke-width="1.3"/>
<text x="578.90" y="715.47" font-size="13" text-anchor="end" fill="#000">0.0</text>
<text transform="translate(553.17,633.25) rotate(-90)" x="0" y="0" font-size="13" text-anchor="middle" textLength="147.3" lengthAdjust="spacingAndGlyphs">Rel. VSV-G. mRNA (fold)</text>
<line x1="585.55" y1="711.30" x2="676.00" y2="711.30" stroke="#000" stroke-width="1.3"/>
<line x1="601.40" y1="711.30" x2="601.40" y2="716.30" stroke="#000" stroke-width="1.3"/>
<line x1="623.60" y1="711.30" x2="623.60" y2="716.30" stroke="#000" stroke-width="1.3"/>
<line x1="645.80" y1="711.30" x2="645.80" y2="716.30" stroke="#000" stroke-width="1.3"/>
<line x1="668.10" y1="711.30" x2="668.10" y2="716.30" stroke="#000" stroke-width="1.3"/>
<rect x="594.85" y="659.95" width="13.10" height="51.35" fill="#fff" stroke="#ccccff" stroke-width="1.5"/>
<line x1="601.40" y1="657.40" x2="601.40" y2="660.70" stroke="#ccccff" stroke-width="1.0"/>
<line x1="598.90" y1="657.40" x2="603.90" y2="657.40" stroke="#ccccff" stroke-width="1.0"/>
<line x1="601.40" y1="659.20" x2="601.40" y2="661.00" stroke="#ccccff" stroke-width="1.0"/>
<line x1="598.90" y1="661.00" x2="603.90" y2="661.00" stroke="#ccccff" stroke-width="1.0"/>
<circle cx="599.90" cy="655.20" r="2.00" fill="#ccccff"/>
<circle cx="605.40" cy="658.70" r="2.00" fill="#ccccff"/>
<circle cx="597.40" cy="660.70" r="2.00" fill="#ccccff"/>
<rect x="617.05" y="613.65" width="13.10" height="97.65" fill="#fff" stroke="#99ccff" stroke-width="1.5"/>
<line x1="623.60" y1="611.10" x2="623.60" y2="614.40" stroke="#99ccff" stroke-width="1.0"/>
<line x1="621.10" y1="611.10" x2="626.10" y2="611.10" stroke="#99ccff" stroke-width="1.0"/>
<line x1="623.60" y1="612.90" x2="623.60" y2="614.70" stroke="#99ccff" stroke-width="1.0"/>
<line x1="621.10" y1="614.70" x2="626.10" y2="614.70" stroke="#99ccff" stroke-width="1.0"/>
<rect x="620.10" y="606.90" width="4.00" height="4.00" fill="#99ccff"/>
<rect x="625.60" y="610.40" width="4.00" height="4.00" fill="#99ccff"/>
<rect x="617.60" y="612.40" width="4.00" height="4.00" fill="#99ccff"/>
<rect x="639.25" y="673.45" width="13.10" height="37.85" fill="#fff" stroke="#6699cc" stroke-width="1.5"/>
<line x1="645.80" y1="670.90" x2="645.80" y2="674.20" stroke="#6699cc" stroke-width="1.0"/>
<line x1="643.30" y1="670.90" x2="648.30" y2="670.90" stroke="#6699cc" stroke-width="1.0"/>
<line x1="645.80" y1="672.70" x2="645.80" y2="674.50" stroke="#6699cc" stroke-width="1.0"/>
<line x1="643.30" y1="674.50" x2="648.30" y2="674.50" stroke="#6699cc" stroke-width="1.0"/>
<polygon points="644.30,666.30 642.10,670.50 646.50,670.50" fill="#6699cc"/>
<polygon points="649.80,669.80 647.60,674.00 652.00,674.00" fill="#6699cc"/>
<polygon points="641.80,671.80 639.60,676.00 644.00,676.00" fill="#6699cc"/>
<rect x="661.55" y="669.85" width="13.10" height="41.45" fill="#fff" stroke="#666699" stroke-width="1.5"/>
<line x1="668.10" y1="667.30" x2="668.10" y2="670.60" stroke="#666699" stroke-width="1.0"/>
<line x1="665.60" y1="667.30" x2="670.60" y2="667.30" stroke="#666699" stroke-width="1.0"/>
<line x1="668.10" y1="669.10" x2="668.10" y2="670.90" stroke="#666699" stroke-width="1.0"/>
<line x1="665.60" y1="670.90" x2="670.60" y2="670.90" stroke="#666699" stroke-width="1.0"/>
<polygon points="666.60,667.50 664.40,663.30 668.80,663.30" fill="#666699"/>
<polygon points="672.10,671.00 669.90,666.80 674.30,666.80" fill="#666699"/>
<polygon points="664.10,673.00 661.90,668.80 666.30,668.80" fill="#666699"/>
<line x1="600.60" y1="600.90" x2="628.20" y2="600.90" stroke="#000" stroke-width="1.3"/>
<line x1="614.40" y1="592.35" x2="614.40" y2="597.65" stroke="#000" stroke-width="1.25"/>
<line x1="612.11" y1="593.67" x2="616.69" y2="596.33" stroke="#000" stroke-width="1.25"/>
<line x1="612.11" y1="596.33" x2="616.69" y2="593.67" stroke="#000" stroke-width="1.25"/>
<line x1="649.70" y1="661.60" x2="676.60" y2="661.60" stroke="#000" stroke-width="1.3"/>
<text x="663.15" y="657.00" font-size="9.7" text-anchor="middle" fill="#000">ns</text>
<text x="555.60" y="719.90" font-size="13" text-anchor="end" fill="#000">VSV</text>
<text x="580.80" y="732.37" font-size="13" text-anchor="end" fill="#000">shNC</text>
<text x="591.90" y="732.22" font-size="13" text-anchor="middle" fill="#000">+</text>
<text x="614.10" y="731.36" font-size="13" text-anchor="middle" fill="#000">-</text>
<text x="636.30" y="732.22" font-size="13" text-anchor="middle" fill="#000">+</text>
<text x="658.50" y="731.36" font-size="13" text-anchor="middle" fill="#000">-</text>
<text x="580.80" y="745.07" font-size="13" text-anchor="end" fill="#000">shSec8</text>
<text x="591.90" y="744.06" font-size="13" text-anchor="middle" fill="#000">-</text>
<text x="614.10" y="744.92" font-size="13" text-anchor="middle" fill="#000">+</text>
<text x="636.30" y="744.06" font-size="13" text-anchor="middle" fill="#000">-</text>
<text x="658.50" y="744.92" font-size="13" text-anchor="middle" fill="#000">+</text>
<text x="580.80" y="758.17" font-size="13" text-anchor="end" fill="#000">DMSO</text>
<text x="591.90" y="758.02" font-size="13" text-anchor="middle" fill="#000">+</text>
<text x="614.10" y="758.02" font-size="13" text-anchor="middle" fill="#000">+</text>
<text x="636.30" y="757.16" font-size="13" text-anchor="middle" fill="#000">-</text>
<text x="658.50" y="757.16" font-size="13" text-anchor="middle" fill="#000">-</text>
<text x="580.80" y="770.87" font-size="13" text-anchor="end" fill="#000">PFT-α</text>
<text x="591.90" y="769.86" font-size="13" text-anchor="middle" fill="#000">-</text>
<text x="614.10" y="769.86" font-size="13" text-anchor="middle" fill="#000">-</text>
<text x="636.30" y="770.72" font-size="13" text-anchor="middle" fill="#000">+</text>
<text x="658.50" y="770.72" font-size="13" text-anchor="middle" fill="#000">+</text>
<text x="320.20" y="782.58" font-size="16.5" text-anchor="start" font-weight="bold" fill="#000">P</text>
<line x1="381.80" y1="798.05" x2="381.80" y2="925.65" stroke="#000" stroke-width="1.3"/>
<line x1="377.80" y1="925.00" x2="381.80" y2="925.00" stroke="#000" stroke-width="1.3"/>
<text x="374.40" y="930.27" font-size="13" text-anchor="end" fill="#000">0</text>
<line x1="377.80" y1="913.52" x2="381.80" y2="913.52" stroke="#000" stroke-width="1.3"/>
<text x="374.40" y="918.79" font-size="13" text-anchor="end" fill="#000">1</text>
<line x1="377.80" y1="902.04" x2="381.80" y2="902.04" stroke="#000" stroke-width="1.3"/>
<text x="374.40" y="907.31" font-size="13" text-anchor="end" fill="#000">2</text>
<line x1="377.80" y1="890.56" x2="381.80" y2="890.56" stroke="#000" stroke-width="1.3"/>
<text x="374.40" y="895.83" font-size="13" text-anchor="end" fill="#000">3</text>
<line x1="377.80" y1="879.08" x2="381.80" y2="879.08" stroke="#000" stroke-width="1.3"/>
<text x="374.40" y="884.35" font-size="13" text-anchor="end" fill="#000">4</text>
<line x1="377.80" y1="867.60" x2="381.80" y2="867.60" stroke="#000" stroke-width="1.3"/>
<text x="374.40" y="872.87" font-size="13" text-anchor="end" fill="#000">5</text>
<line x1="377.80" y1="856.12" x2="381.80" y2="856.12" stroke="#000" stroke-width="1.3"/>
<text x="374.40" y="861.39" font-size="13" text-anchor="end" fill="#000">6</text>
<line x1="377.80" y1="844.64" x2="381.80" y2="844.64" stroke="#000" stroke-width="1.3"/>
<text x="374.40" y="849.91" font-size="13" text-anchor="end" fill="#000">7</text>
<line x1="377.80" y1="833.16" x2="381.80" y2="833.16" stroke="#000" stroke-width="1.3"/>
<text x="374.40" y="838.43" font-size="13" text-anchor="end" fill="#000">8</text>
<line x1="377.80" y1="821.68" x2="381.80" y2="821.68" stroke="#000" stroke-width="1.3"/>
<text x="374.40" y="826.95" font-size="13" text-anchor="end" fill="#000">9</text>
<line x1="377.80" y1="810.20" x2="381.80" y2="810.20" stroke="#000" stroke-width="1.3"/>
<text x="374.40" y="815.47" font-size="13" text-anchor="end" fill="#000">10</text>
<line x1="377.80" y1="798.72" x2="381.80" y2="798.72" stroke="#000" stroke-width="1.3"/>
<text x="374.40" y="803.99" font-size="13" text-anchor="end" fill="#000">11</text>
<text transform="translate(351.57,849.20) rotate(-90)" x="0" y="0" font-size="13" text-anchor="middle" textLength="138.2" lengthAdjust="spacingAndGlyphs">Viral titer(logTCID<tspan font-size="7.8" dy="3.4">50</tspan><tspan dy="-3.4">/ml)</tspan></text>
<line x1="381.15" y1="925.00" x2="474.30" y2="925.00" stroke="#000" stroke-width="1.3"/>
<line x1="395.30" y1="925.00" x2="395.30" y2="930.00" stroke="#000" stroke-width="1.3"/>
<line x1="417.50" y1="925.00" x2="417.50" y2="930.00" stroke="#000" stroke-width="1.3"/>
<line x1="439.60" y1="925.00" x2="439.60" y2="930.00" stroke="#000" stroke-width="1.3"/>
<line x1="461.40" y1="925.00" x2="461.40" y2="930.00" stroke="#000" stroke-width="1.3"/>
<rect x="388.75" y="827.05" width="13.10" height="97.95" fill="#fff" stroke="#ccccff" stroke-width="1.5"/>
<line x1="395.30" y1="824.50" x2="395.30" y2="827.80" stroke="#ccccff" stroke-width="1.0"/>
<line x1="392.80" y1="824.50" x2="397.80" y2="824.50" stroke="#ccccff" stroke-width="1.0"/>
<line x1="395.30" y1="826.30" x2="395.30" y2="828.10" stroke="#ccccff" stroke-width="1.0"/>
<line x1="392.80" y1="828.10" x2="397.80" y2="828.10" stroke="#ccccff" stroke-width="1.0"/>
<circle cx="390.80" cy="826.30" r="2.00" fill="#ccccff"/>
<circle cx="395.30" cy="825.80" r="2.00" fill="#ccccff"/>
<circle cx="399.80" cy="826.30" r="2.00" fill="#ccccff"/>
<rect x="410.95" y="813.85" width="13.10" height="111.15" fill="#fff" stroke="#99ccff" stroke-width="1.5"/>
<line x1="417.50" y1="811.30" x2="417.50" y2="814.60" stroke="#99ccff" stroke-width="1.0"/>
<line x1="415.00" y1="811.30" x2="420.00" y2="811.30" stroke="#99ccff" stroke-width="1.0"/>
<line x1="417.50" y1="813.10" x2="417.50" y2="814.90" stroke="#99ccff" stroke-width="1.0"/>
<line x1="415.00" y1="814.90" x2="420.00" y2="814.90" stroke="#99ccff" stroke-width="1.0"/>
<rect x="411.00" y="811.10" width="4.00" height="4.00" fill="#99ccff"/>
<rect x="415.50" y="809.10" width="4.00" height="4.00" fill="#99ccff"/>
<rect x="420.00" y="811.10" width="4.00" height="4.00" fill="#99ccff"/>
<rect x="433.05" y="840.25" width="13.10" height="84.75" fill="#fff" stroke="#6699cc" stroke-width="1.5"/>
<line x1="439.60" y1="837.70" x2="439.60" y2="841.00" stroke="#6699cc" stroke-width="1.0"/>
<line x1="437.10" y1="837.70" x2="442.10" y2="837.70" stroke="#6699cc" stroke-width="1.0"/>
<line x1="439.60" y1="839.50" x2="439.60" y2="841.30" stroke="#6699cc" stroke-width="1.0"/>
<line x1="437.10" y1="841.30" x2="442.10" y2="841.30" stroke="#6699cc" stroke-width="1.0"/>
<polygon points="435.10,837.10 432.90,841.30 437.30,841.30" fill="#6699cc"/>
<polygon points="439.60,835.60 437.40,839.80 441.80,839.80" fill="#6699cc"/>
<polygon points="444.10,837.10 441.90,841.30 446.30,841.30" fill="#6699cc"/>
<rect x="454.85" y="837.75" width="13.10" height="87.25" fill="#fff" stroke="#666699" stroke-width="1.5"/>
<line x1="461.40" y1="835.20" x2="461.40" y2="838.50" stroke="#666699" stroke-width="1.0"/>
<line x1="458.90" y1="835.20" x2="463.90" y2="835.20" stroke="#666699" stroke-width="1.0"/>
<line x1="461.40" y1="837.00" x2="461.40" y2="838.80" stroke="#666699" stroke-width="1.0"/>
<line x1="458.90" y1="838.80" x2="463.90" y2="838.80" stroke="#666699" stroke-width="1.0"/>
<polygon points="456.90,839.40 454.70,835.20 459.10,835.20" fill="#666699"/>
<polygon points="461.40,838.90 459.20,834.70 463.60,834.70" fill="#666699"/>
<polygon points="465.90,839.40 463.70,835.20 468.10,835.20" fill="#666699"/>
<line x1="391.00" y1="805.80" x2="417.60" y2="805.80" stroke="#000" stroke-width="1.3"/>
<line x1="401.10" y1="797.25" x2="401.10" y2="802.55" stroke="#000" stroke-width="1.25"/>
<line x1="398.81" y1="798.57" x2="403.39" y2="801.23" stroke="#000" stroke-width="1.25"/>
<line x1="398.81" y1="801.23" x2="403.39" y2="798.57" stroke="#000" stroke-width="1.25"/>
<line x1="407.50" y1="797.25" x2="407.50" y2="802.55" stroke="#000" stroke-width="1.25"/>
<line x1="405.21" y1="798.57" x2="409.79" y2="801.23" stroke="#000" stroke-width="1.25"/>
<line x1="405.21" y1="801.23" x2="409.79" y2="798.57" stroke="#000" stroke-width="1.25"/>
<line x1="437.50" y1="829.40" x2="465.10" y2="829.40" stroke="#000" stroke-width="1.3"/>
<text x="451.30" y="824.80" font-size="9.7" text-anchor="middle" fill="#000">ns</text>
<text x="362.20" y="930.50" font-size="13" text-anchor="end" fill="#000">VSV</text>
<text x="382.50" y="944.67" font-size="13" text-anchor="end" fill="#000">shNC</text>
<text x="395.30" y="944.52" font-size="13" text-anchor="middle" fill="#000">+</text>
<text x="417.50" y="943.66" font-size="13" text-anchor="middle" fill="#000">-</text>
<text x="439.60" y="944.52" font-size="13" text-anchor="middle" fill="#000">+</text>
<text x="461.40" y="943.66" font-size="13" text-anchor="middle" fill="#000">-</text>
<text x="382.50" y="957.07" font-size="13" text-anchor="end" fill="#000">shSec8</text>
<text x="395.30" y="956.06" font-size="13" text-anchor="middle" fill="#000">-</text>
<text x="417.50" y="956.92" font-size="13" text-anchor="middle" fill="#000">+</text>
<text x="439.60" y="956.06" font-size="13" text-anchor="middle" fill="#000">-</text>
<text x="461.40" y="956.92" font-size="13" text-anchor="middle" fill="#000">+</text>
<text x="382.50" y="970.37" font-size="13" text-anchor="end" fill="#000">shSTUB1</text>
<text x="395.30" y="969.36" font-size="13" text-anchor="middle" fill="#000">-</text>
<text x="417.50" y="969.36" font-size="13" text-anchor="middle" fill="#000">-</text>
<text x="439.60" y="970.22" font-size="13" text-anchor="middle" fill="#000">+</text>
<text x="461.40" y="970.22" font-size="13" text-anchor="middle" fill="#000">+</text>
<text x="516.40" y="782.38" font-size="16.5" text-anchor="start" font-weight="bold" fill="#000">Q</text>
<line x1="578.20" y1="797.25" x2="578.20" y2="925.75" stroke="#000" stroke-width="1.3"/>
<line x1="574.20" y1="925.10" x2="578.20" y2="925.10" stroke="#000" stroke-width="1.3"/>
<text x="569.50" y="930.27" font-size="13" text-anchor="end" fill="#000">0</text>
<line x1="574.20" y1="912.43" x2="578.20" y2="912.43" stroke="#000" stroke-width="1.3"/>
<text x="569.50" y="917.60" font-size="13" text-anchor="end" fill="#000">1</text>
<line x1="574.20" y1="899.76" x2="578.20" y2="899.76" stroke="#000" stroke-width="1.3"/>
<text x="569.50" y="904.93" font-size="13" text-anchor="end" fill="#000">2</text>
<line x1="574.20" y1="887.09" x2="578.20" y2="887.09" stroke="#000" stroke-width="1.3"/>
<text x="569.50" y="892.26" font-size="13" text-anchor="end" fill="#000">3</text>
<line x1="574.20" y1="874.42" x2="578.20" y2="874.42" stroke="#000" stroke-width="1.3"/>
<text x="569.50" y="879.59" font-size="13" text-anchor="end" fill="#000">4</text>
<line x1="574.20" y1="861.75" x2="578.20" y2="861.75" stroke="#000" stroke-width="1.3"/>
<text x="569.50" y="866.92" font-size="13" text-anchor="end" fill="#000">5</text>
<line x1="574.20" y1="849.08" x2="578.20" y2="849.08" stroke="#000" stroke-width="1.3"/>
<text x="569.50" y="854.25" font-size="13" text-anchor="end" fill="#000">6</text>
<line x1="574.20" y1="836.41" x2="578.20" y2="836.41" stroke="#000" stroke-width="1.3"/>
<text x="569.50" y="841.58" font-size="13" text-anchor="end" fill="#000">7</text>
<line x1="574.20" y1="823.74" x2="578.20" y2="823.74" stroke="#000" stroke-width="1.3"/>
<text x="569.50" y="828.91" font-size="13" text-anchor="end" fill="#000">8</text>
<line x1="574.20" y1="811.07" x2="578.20" y2="811.07" stroke="#000" stroke-width="1.3"/>
<text x="569.50" y="816.24" font-size="13" text-anchor="end" fill="#000">9</text>
<line x1="574.20" y1="798.40" x2="578.20" y2="798.40" stroke="#000" stroke-width="1.3"/>
<text x="569.50" y="803.57" font-size="13" text-anchor="end" fill="#000">10</text>
<text transform="translate(547.07,847.90) rotate(-90)" x="0" y="0" font-size="13" text-anchor="middle" textLength="136.2" lengthAdjust="spacingAndGlyphs">Viral titer(logTCID<tspan font-size="7.8" dy="3.4">50</tspan><tspan dy="-3.4">/ml)</tspan></text>
<line x1="577.55" y1="925.10" x2="675.00" y2="925.10" stroke="#000" stroke-width="1.3"/>
<line x1="592.90" y1="925.10" x2="592.90" y2="930.10" stroke="#000" stroke-width="1.3"/>
<line x1="615.10" y1="925.10" x2="615.10" y2="930.10" stroke="#000" stroke-width="1.3"/>
<line x1="637.80" y1="925.10" x2="637.80" y2="930.10" stroke="#000" stroke-width="1.3"/>
<line x1="660.10" y1="925.10" x2="660.10" y2="930.10" stroke="#000" stroke-width="1.3"/>
<rect x="586.35" y="819.65" width="13.10" height="105.45" fill="#fff" stroke="#ccccff" stroke-width="1.5"/>
<line x1="592.90" y1="817.10" x2="592.90" y2="820.40" stroke="#ccccff" stroke-width="1.0"/>
<line x1="590.40" y1="817.10" x2="595.40" y2="817.10" stroke="#ccccff" stroke-width="1.0"/>
<line x1="592.90" y1="818.90" x2="592.90" y2="820.70" stroke="#ccccff" stroke-width="1.0"/>
<line x1="590.40" y1="820.70" x2="595.40" y2="820.70" stroke="#ccccff" stroke-width="1.0"/>
<circle cx="588.40" cy="818.90" r="2.00" fill="#ccccff"/>
<circle cx="592.90" cy="817.40" r="2.00" fill="#ccccff"/>
<circle cx="597.40" cy="818.90" r="2.00" fill="#ccccff"/>
<rect x="608.55" y="804.65" width="13.10" height="120.45" fill="#fff" stroke="#99ccff" stroke-width="1.5"/>
<line x1="615.10" y1="802.10" x2="615.10" y2="805.40" stroke="#99ccff" stroke-width="1.0"/>
<line x1="612.60" y1="802.10" x2="617.60" y2="802.10" stroke="#99ccff" stroke-width="1.0"/>
<line x1="615.10" y1="803.90" x2="615.10" y2="805.70" stroke="#99ccff" stroke-width="1.0"/>
<line x1="612.60" y1="805.70" x2="617.60" y2="805.70" stroke="#99ccff" stroke-width="1.0"/>
<rect x="608.60" y="801.90" width="4.00" height="4.00" fill="#99ccff"/>
<rect x="613.10" y="799.90" width="4.00" height="4.00" fill="#99ccff"/>
<rect x="617.60" y="801.90" width="4.00" height="4.00" fill="#99ccff"/>
<rect x="631.25" y="829.25" width="13.10" height="95.85" fill="#fff" stroke="#6699cc" stroke-width="1.5"/>
<line x1="637.80" y1="826.70" x2="637.80" y2="830.00" stroke="#6699cc" stroke-width="1.0"/>
<line x1="635.30" y1="826.70" x2="640.30" y2="826.70" stroke="#6699cc" stroke-width="1.0"/>
<line x1="637.80" y1="828.50" x2="637.80" y2="830.30" stroke="#6699cc" stroke-width="1.0"/>
<line x1="635.30" y1="830.30" x2="640.30" y2="830.30" stroke="#6699cc" stroke-width="1.0"/>
<polygon points="633.30,826.10 631.10,830.30 635.50,830.30" fill="#6699cc"/>
<polygon points="637.80,824.60 635.60,828.80 640.00,828.80" fill="#6699cc"/>
<polygon points="642.30,826.10 640.10,830.30 644.50,830.30" fill="#6699cc"/>
<rect x="653.55" y="828.65" width="13.10" height="96.45" fill="#fff" stroke="#666699" stroke-width="1.5"/>
<line x1="660.10" y1="826.10" x2="660.10" y2="829.40" stroke="#666699" stroke-width="1.0"/>
<line x1="657.60" y1="826.10" x2="662.60" y2="826.10" stroke="#666699" stroke-width="1.0"/>
<line x1="660.10" y1="827.90" x2="660.10" y2="829.70" stroke="#666699" stroke-width="1.0"/>
<line x1="657.60" y1="829.70" x2="662.60" y2="829.70" stroke="#666699" stroke-width="1.0"/>
<polygon points="655.60,830.30 653.40,826.10 657.80,826.10" fill="#666699"/>
<polygon points="660.10,829.80 657.90,825.60 662.30,825.60" fill="#666699"/>
<polygon points="664.60,830.30 662.40,826.10 666.80,826.10" fill="#666699"/>
<line x1="591.60" y1="796.40" x2="618.60" y2="796.40" stroke="#000" stroke-width="1.3"/>
<line x1="601.90" y1="787.85" x2="601.90" y2="793.15" stroke="#000" stroke-width="1.25"/>
<line x1="599.61" y1="789.17" x2="604.19" y2="791.83" stroke="#000" stroke-width="1.25"/>
<line x1="599.61" y1="791.83" x2="604.19" y2="789.17" stroke="#000" stroke-width="1.25"/>
<line x1="608.30" y1="787.85" x2="608.30" y2="793.15" stroke="#000" stroke-width="1.25"/>
<line x1="606.01" y1="789.17" x2="610.59" y2="791.83" stroke="#000" stroke-width="1.25"/>
<line x1="606.01" y1="791.83" x2="610.59" y2="789.17" stroke="#000" stroke-width="1.25"/>
<line x1="634.10" y1="819.50" x2="661.10" y2="819.50" stroke="#000" stroke-width="1.3"/>
<text x="647.60" y="814.90" font-size="9.7" text-anchor="middle" fill="#000">ns</text>
<text x="557.20" y="931.10" font-size="13" text-anchor="end" fill="#000">VSV</text>
<text x="581.90" y="942.97" font-size="13" text-anchor="end" fill="#000">shNC</text>
<text x="592.90" y="942.82" font-size="13" text-anchor="middle" fill="#000">+</text>
<text x="615.10" y="941.96" font-size="13" text-anchor="middle" fill="#000">-</text>
<text x="637.80" y="942.82" font-size="13" text-anchor="middle" fill="#000">+</text>
<text x="660.10" y="941.96" font-size="13" text-anchor="middle" fill="#000">-</text>
<text x="581.90" y="955.27" font-size="13" text-anchor="end" fill="#000">shSec8</text>
<text x="592.90" y="954.26" font-size="13" text-anchor="middle" fill="#000">-</text>
<text x="615.10" y="955.12" font-size="13" text-anchor="middle" fill="#000">+</text>
<text x="637.80" y="954.26" font-size="13" text-anchor="middle" fill="#000">-</text>
<text x="660.10" y="955.12" font-size="13" text-anchor="middle" fill="#000">+</text>
<text x="581.90" y="967.97" font-size="13" text-anchor="end" fill="#000">DMSO</text>
<text x="592.90" y="967.82" font-size="13" text-anchor="middle" fill="#000">+</text>
<text x="615.10" y="967.82" font-size="13" text-anchor="middle" fill="#000">+</text>
<text x="637.80" y="966.96" font-size="13" text-anchor="middle" fill="#000">-</text>
<text x="660.10" y="966.96" font-size="13" text-anchor="middle" fill="#000">-</text>
<text x="581.90" y="980.07" font-size="13" text-anchor="end" fill="#000">PFT-α</text>
<text x="592.90" y="979.06" font-size="13" text-anchor="middle" fill="#000">-</text>
<text x="615.10" y="979.06" font-size="13" text-anchor="middle" fill="#000">-</text>
<text x="637.80" y="979.92" font-size="13" text-anchor="middle" fill="#000">+</text>
<text x="660.10" y="979.92" font-size="13" text-anchor="middle" fill="#000">+</text>
</g>
</svg>
</div>
</body></html>
